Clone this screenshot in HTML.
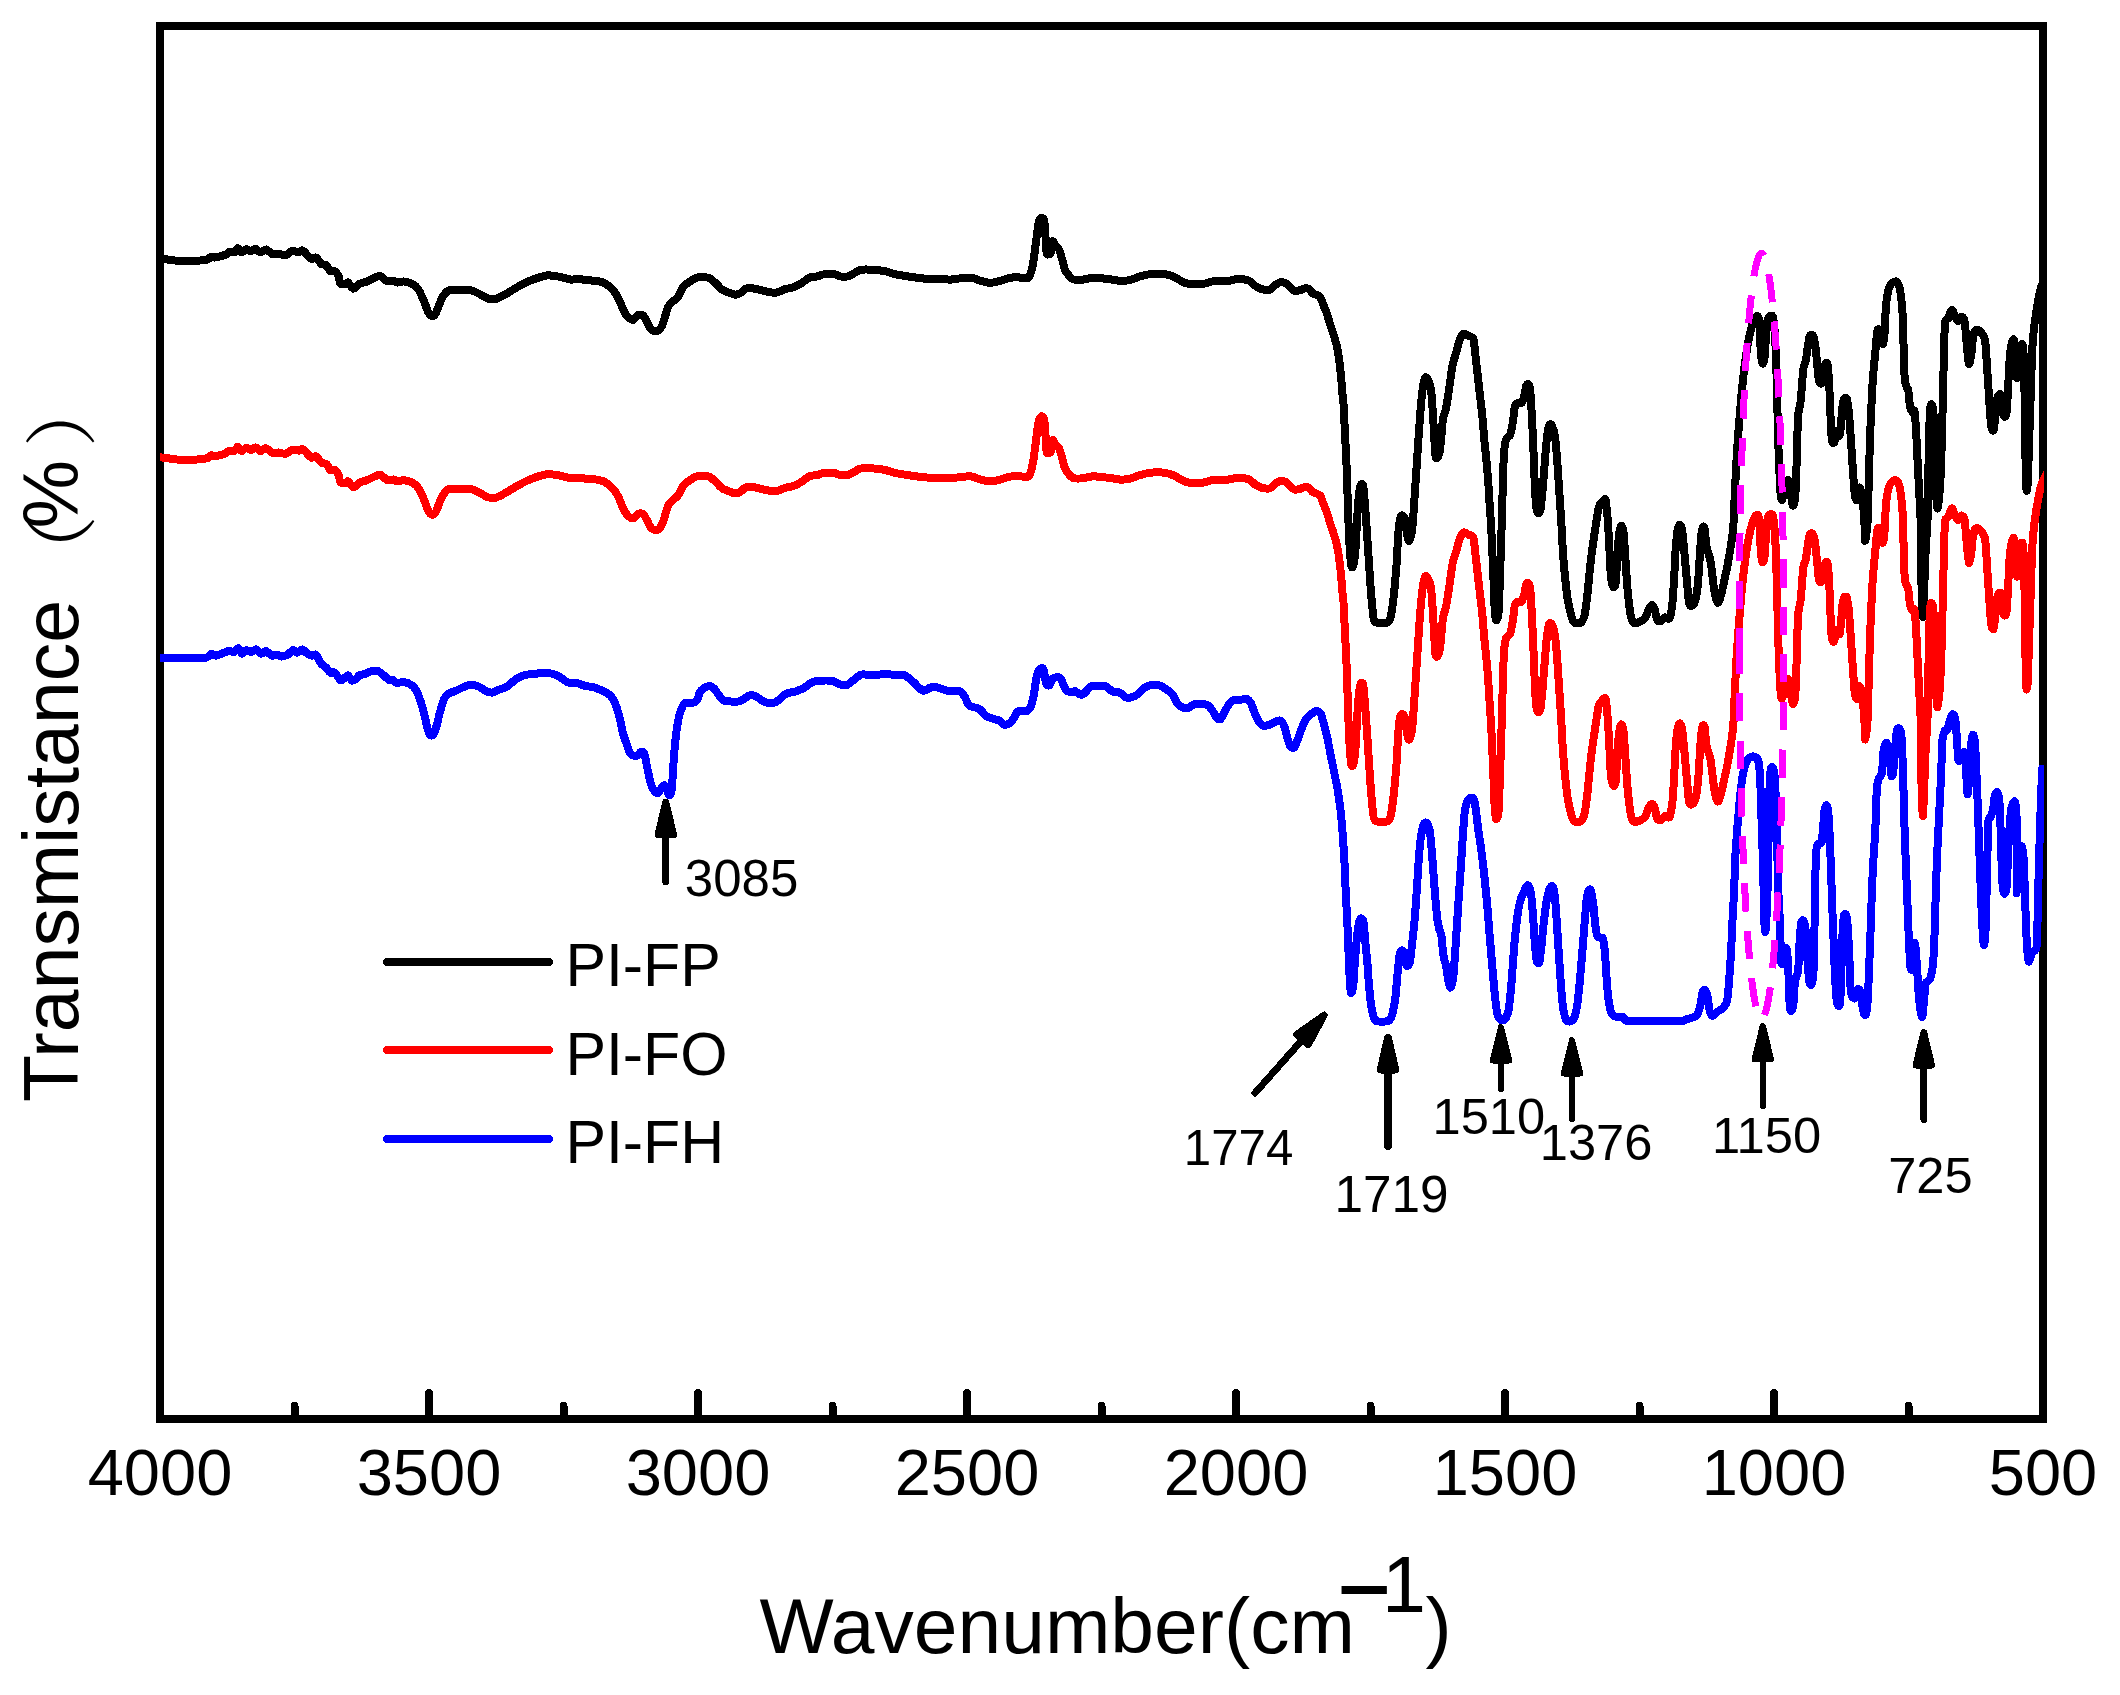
<!DOCTYPE html>
<html><head><meta charset="utf-8"><title>FTIR spectra</title>
<style>
html,body{margin:0;padding:0;background:#fff}
body{width:2120px;height:1695px;overflow:hidden}
svg{display:block}
text{font-family:"Liberation Sans",sans-serif;fill:#000}
</style></head><body>
<svg width="2120" height="1695" viewBox="0 0 2120 1695" shape-rendering="crispEdges">
<rect x="0" y="0" width="2120" height="1695" fill="#fff"/>
<rect x="160" y="26" width="1883" height="1393" fill="none" stroke="#000" stroke-width="8"/>
<g stroke="#000" stroke-width="8" stroke-linecap="round"><line x1="160.0" y1="1419" x2="160.0" y2="1393"/><line x1="294.5" y1="1419" x2="294.5" y2="1406"/><line x1="429.0" y1="1419" x2="429.0" y2="1393"/><line x1="563.5" y1="1419" x2="563.5" y2="1406"/><line x1="698.0" y1="1419" x2="698.0" y2="1393"/><line x1="832.5" y1="1419" x2="832.5" y2="1406"/><line x1="967.0" y1="1419" x2="967.0" y2="1393"/><line x1="1101.5" y1="1419" x2="1101.5" y2="1406"/><line x1="1236.0" y1="1419" x2="1236.0" y2="1393"/><line x1="1370.5" y1="1419" x2="1370.5" y2="1406"/><line x1="1505.0" y1="1419" x2="1505.0" y2="1393"/><line x1="1639.5" y1="1419" x2="1639.5" y2="1406"/><line x1="1774.0" y1="1419" x2="1774.0" y2="1393"/><line x1="1908.5" y1="1419" x2="1908.5" y2="1406"/><line x1="2043.0" y1="1419" x2="2043.0" y2="1393"/></g>
<g font-size="65"><text x="160.0" y="1494.7" text-anchor="middle">4000</text><text x="429.0" y="1494.7" text-anchor="middle">3500</text><text x="698.0" y="1494.7" text-anchor="middle">3000</text><text x="967.0" y="1494.7" text-anchor="middle">2500</text><text x="1236.0" y="1494.7" text-anchor="middle">2000</text><text x="1505.0" y="1494.7" text-anchor="middle">1500</text><text x="1774.0" y="1494.7" text-anchor="middle">1000</text><text x="2043.0" y="1494.7" text-anchor="middle">500</text></g>
<clipPath id="plotclip"><rect x="160" y="26" width="1884" height="1393"/></clipPath>
<g fill="none" stroke-width="8" stroke-linejoin="round" stroke-linecap="butt" clip-path="url(#plotclip)">
<path stroke="#000" d="M159.8,258.5C160.4,258.6 161.4,258.7 164.2,259.1C166.9,259.4 177.9,261.1 182.1,261.3C186.2,261.5 194.0,261.0 197.2,260.8C200.4,260.5 205.8,260.0 207.5,259.4C209.3,258.9 210.4,256.8 211.3,256.6C212.3,256.4 213.3,257.8 215.1,257.5C216.9,257.3 223.7,255.4 225.5,254.7C227.2,254.0 228.1,252.2 229.2,251.9C230.4,251.5 233.8,252.4 234.9,251.9C236.0,251.4 236.9,248.0 237.7,248.1C238.6,248.2 240.4,252.3 241.5,252.5C242.6,252.6 245.0,249.2 246.2,249.1C247.4,248.9 249.8,251.4 250.9,251.3C252.1,251.3 254.5,248.5 255.7,248.7C256.8,248.8 259.1,252.4 260.4,252.5C261.7,252.5 264.5,249.2 266.0,249.4C267.6,249.7 271.1,253.8 272.6,254.3C274.2,254.9 276.7,253.7 278.3,253.8C280.0,253.9 284.2,255.4 285.8,255.1C287.5,254.8 289.9,251.7 291.5,251.3C293.2,250.9 297.6,252.0 299.1,251.9C300.5,251.8 301.3,249.7 302.8,250.6C304.4,251.4 309.7,258.0 311.3,258.9C313.0,259.7 314.7,256.9 316.0,257.5C317.3,258.2 320.4,263.2 321.7,264.2C323.0,265.1 325.4,264.2 326.4,265.1C327.5,266.0 329.1,270.5 330.2,271.3C331.2,272.1 333.8,270.7 334.9,271.3C336.0,272.0 338.0,274.8 338.7,276.4C339.4,278.0 339.6,283.0 340.6,284.0C341.5,284.9 345.3,284.1 346.2,284.0C347.2,283.8 347.2,282.1 348.1,282.6C349.0,283.2 352.0,288.5 353.4,288.7C354.8,288.8 357.7,284.9 359.4,284.0C361.1,283.1 364.9,282.4 367.0,281.5C369.1,280.6 374.6,277.6 376.4,277.0C378.2,276.3 379.8,275.9 381.1,276.4C382.4,276.9 385.3,280.6 386.8,281.1C388.3,281.7 392.1,280.6 393.4,280.8C394.7,280.9 395.9,282.5 397.2,282.6C398.5,282.7 401.9,281.3 403.8,281.5C405.7,281.7 410.5,283.1 412.3,284.0C414.0,284.9 416.5,286.7 417.9,288.7C419.3,290.7 422.3,297.1 423.6,300.0C424.9,302.9 427.2,310.3 428.3,312.3C429.4,314.3 431.1,315.9 432.1,316.0C433.0,316.2 434.7,315.3 435.8,313.2C437.0,311.1 440.0,301.9 441.5,299.1C443.0,296.2 446.3,291.7 448.1,290.6C449.9,289.5 452.8,290.2 455.7,290.2C458.5,290.1 467.9,289.8 470.8,290.2C473.6,290.6 476.2,292.4 478.3,293.4C480.4,294.4 485.6,297.8 487.7,298.5C489.9,299.2 493.2,299.5 495.3,299.1C497.4,298.6 501.9,296.2 504.7,294.7C507.5,293.2 514.6,288.6 517.9,286.8C521.2,285.0 527.6,281.6 531.1,280.2C534.7,278.8 543.8,276.1 546.2,275.5C548.6,274.9 548.6,275.3 550.4,275.5C552.2,275.7 558.2,276.5 560.8,277.0C563.3,277.5 569.0,279.4 571.1,279.6C573.3,279.9 575.7,278.8 577.7,278.9C579.7,278.9 584.6,279.9 587.2,280.2C589.8,280.5 596.1,280.7 598.5,281.1C600.8,281.6 604.2,282.8 606.0,284.0C607.9,285.1 611.9,288.6 613.6,290.6C615.2,292.6 618.1,297.6 619.2,300.0C620.4,302.4 622.0,307.3 623.0,309.4C624.1,311.6 626.4,315.7 627.7,317.0C629.0,318.3 632.1,320.0 633.4,319.8C634.7,319.6 636.9,315.7 638.1,315.1C639.3,314.5 641.8,314.4 642.8,315.1C643.9,315.8 645.7,319.1 646.6,320.8C647.5,322.4 649.4,327.0 650.4,328.3C651.3,329.6 653.1,330.9 654.2,331.1C655.2,331.4 657.8,331.0 658.9,330.2C659.9,329.4 661.8,326.4 662.6,324.5C663.5,322.6 664.8,317.3 665.5,315.1C666.2,312.9 667.5,308.3 668.3,306.6C669.1,305.0 670.9,303.1 672.1,301.9C673.3,300.7 676.3,299.1 677.7,297.2C679.2,295.3 682.0,288.7 683.4,286.8C684.8,284.9 687.4,283.2 689.1,282.1C690.7,280.9 695.0,278.4 696.6,277.7C698.3,277.1 700.6,276.9 702.3,277.0C703.9,277.1 708.2,277.5 709.8,278.3C711.5,279.1 713.9,281.6 715.5,283.0C717.0,284.4 720.4,288.4 722.1,289.6C723.7,290.8 727.0,291.8 728.7,292.5C730.3,293.1 733.8,294.7 735.3,294.7C736.8,294.8 739.6,293.6 740.9,292.8C742.2,292.1 743.9,289.2 745.7,288.7C747.4,288.2 753.0,288.4 755.1,288.7C757.2,288.9 760.3,290.0 762.6,290.6C765.0,291.1 771.8,292.7 774.0,292.8C776.1,292.9 778.2,292.0 779.6,291.5C781.0,291.0 783.5,289.6 785.3,289.1C787.1,288.5 791.7,288.0 793.8,287.2C795.9,286.4 800.3,283.9 802.3,282.6C804.3,281.4 807.9,278.1 809.8,277.4C811.7,276.6 815.7,276.8 817.4,276.4C819.0,276.1 820.9,274.8 823.0,274.5C825.1,274.2 832.2,273.9 834.3,274.2C836.5,274.4 838.3,276.1 840.0,276.4C841.7,276.7 845.8,276.8 847.5,276.4C849.3,276.0 852.5,274.0 854.2,273.2C855.8,272.4 858.3,270.2 860.8,269.8C863.2,269.4 870.9,269.6 874.0,269.8C877.0,270.0 882.7,270.8 885.3,271.3C887.9,271.9 891.9,273.5 894.7,274.2C897.5,274.8 904.6,275.9 907.9,276.4C911.2,276.9 917.6,277.9 921.1,278.3C924.7,278.7 933.5,279.2 936.2,279.2C939.0,279.3 941.4,279.0 943.2,279.1C945.0,279.1 948.4,279.7 950.8,279.6C953.1,279.5 959.5,278.3 962.1,278.1C964.7,277.9 969.2,277.4 971.5,277.7C973.9,278.1 978.6,280.3 980.9,280.9C983.3,281.6 988.0,282.8 990.4,282.8C992.7,282.8 997.5,281.5 999.8,280.9C1002.2,280.4 1007.1,278.6 1009.2,278.1C1011.4,277.6 1014.9,277.2 1016.8,277.2C1018.7,277.2 1022.8,278.1 1024.3,278.1C1025.9,278.1 1028.0,278.8 1029.1,277.2C1030.1,275.5 1032.0,269.0 1032.8,264.9C1033.7,260.8 1035.0,249.3 1035.7,244.2C1036.4,239.0 1037.8,226.7 1038.5,223.4C1039.2,220.1 1040.6,218.1 1041.3,217.7C1042.0,217.4 1043.6,218.2 1044.2,220.6C1044.7,222.9 1045.2,232.6 1045.5,236.6C1045.8,240.6 1046.3,250.4 1046.6,252.6C1046.9,254.9 1047.4,254.5 1047.9,254.5C1048.4,254.5 1050.2,254.3 1050.8,252.6C1051.3,251.0 1052.1,242.1 1052.6,241.3C1053.2,240.5 1054.6,245.0 1055.5,246.0C1056.3,247.1 1058.4,248.2 1059.2,249.8C1060.1,251.5 1061.4,256.8 1062.1,259.2C1062.8,261.7 1064.1,267.6 1064.9,269.6C1065.7,271.6 1067.6,274.1 1068.7,275.3C1069.7,276.5 1071.6,278.9 1073.4,279.4C1075.2,280.0 1080.5,279.8 1082.8,279.6C1085.2,279.4 1090.1,277.9 1092.3,277.7C1094.4,277.5 1097.5,277.9 1099.8,278.1C1102.2,278.3 1108.5,279.1 1111.1,279.4C1113.7,279.8 1118.2,280.9 1120.6,280.9C1122.9,281.0 1127.6,280.5 1130.0,280.0C1132.4,279.5 1136.8,277.4 1139.4,276.6C1142.0,275.8 1147.7,274.3 1150.8,274.0C1153.8,273.6 1161.1,273.6 1164.0,274.0C1166.8,274.3 1171.0,275.6 1173.4,276.6C1175.8,277.6 1180.9,281.0 1182.8,281.9C1184.7,282.8 1185.9,283.5 1188.5,283.8C1191.1,284.0 1200.5,284.1 1203.6,283.8C1206.7,283.5 1210.0,281.7 1213.0,281.3C1216.1,281.0 1225.0,281.2 1228.1,280.9C1231.2,280.7 1235.0,279.1 1237.5,279.1C1240.1,279.0 1246.7,279.7 1248.9,280.6C1251.1,281.4 1253.5,284.7 1255.1,285.8C1256.7,286.9 1259.8,288.6 1261.7,289.1C1263.6,289.6 1268.6,290.0 1270.2,289.6C1271.9,289.1 1273.8,286.2 1274.9,285.3C1276.1,284.4 1278.4,282.8 1279.7,282.5C1281.0,282.2 1283.9,282.3 1285.3,283.0C1286.7,283.7 1289.8,287.2 1291.0,288.2C1292.2,289.2 1293.6,290.8 1294.8,291.0C1295.9,291.2 1299.1,290.4 1300.4,290.0C1301.7,289.7 1304.1,288.3 1305.2,288.2C1306.2,288.0 1308.0,288.5 1308.9,289.1C1309.9,289.8 1311.8,292.6 1312.7,293.4C1313.7,294.1 1315.5,294.3 1316.5,294.8C1317.4,295.2 1319.4,295.9 1320.3,297.1C1321.1,298.3 1322.3,302.1 1323.1,304.2C1323.9,306.3 1326.0,311.3 1326.9,313.7C1327.7,316.0 1328.9,320.5 1329.7,323.1C1330.5,325.7 1332.7,331.8 1333.5,334.4C1334.3,337.0 1335.7,341.5 1336.3,343.9C1336.9,346.2 1337.7,350.4 1338.2,353.3C1338.7,356.3 1339.7,363.9 1340.1,367.5C1340.5,371.0 1341.2,377.6 1341.5,381.6C1341.9,385.7 1342.7,397.1 1342.9,400.1C1343.2,403.0 1343.4,400.8 1343.6,404.9C1343.9,409.1 1344.6,426.2 1344.9,433.3C1345.3,440.3 1346.1,454.5 1346.4,461.6C1346.7,468.7 1347.1,482.8 1347.4,489.9C1347.6,497.0 1348.0,511.1 1348.3,518.2C1348.6,525.3 1349.3,540.6 1349.6,546.5C1350.0,552.4 1350.7,562.9 1351.2,565.4C1351.6,567.9 1352.5,568.0 1353.0,566.3C1353.6,564.7 1354.8,558.2 1355.3,552.2C1355.8,546.2 1356.8,525.0 1357.2,518.2C1357.6,511.4 1358.3,501.6 1358.7,497.4C1359.1,493.3 1360.0,486.6 1360.6,485.2C1361.2,483.8 1362.7,483.4 1363.2,486.1C1363.8,488.8 1364.7,501.7 1365.1,506.9C1365.5,512.1 1366.2,521.5 1366.6,527.6C1367.1,533.8 1368.0,548.9 1368.5,556.0C1369.0,563.0 1369.9,577.4 1370.4,584.3C1370.9,591.1 1372.1,606.0 1372.7,610.7C1373.3,615.4 1373.3,620.5 1375.1,622.0C1377.0,623.5 1385.4,623.3 1387.4,622.6C1389.4,621.9 1390.0,620.0 1390.8,616.4C1391.6,612.8 1393.3,600.1 1394.0,593.7C1394.7,587.3 1395.9,572.9 1396.5,565.4C1397.0,557.8 1397.9,539.2 1398.3,533.3C1398.8,527.4 1399.7,520.4 1400.2,518.2C1400.8,516.0 1401.9,515.1 1402.5,515.4C1403.1,515.6 1404.7,517.6 1405.3,520.1C1405.9,522.6 1406.7,532.6 1407.2,535.2C1407.7,537.8 1408.5,541.3 1409.1,540.9C1409.7,540.4 1411.3,535.4 1411.9,531.4C1412.5,527.4 1413.4,515.1 1413.8,508.8C1414.3,502.4 1415.2,487.5 1415.7,480.5C1416.2,473.4 1417.1,459.9 1417.6,452.1C1418.1,444.4 1419.3,425.7 1419.9,418.2C1420.5,410.6 1421.7,396.7 1422.3,391.7C1422.9,386.8 1424.2,380.2 1424.8,378.5C1425.4,376.8 1426.3,377.0 1427.0,378.1C1427.8,379.3 1430.1,383.9 1430.8,388.0C1431.5,392.0 1432.3,404.5 1432.7,410.6C1433.1,416.7 1433.9,431.4 1434.2,437.0C1434.6,442.7 1435.1,453.3 1435.5,455.9C1435.9,458.5 1436.9,458.5 1437.4,457.8C1438.0,457.1 1439.3,453.6 1439.9,450.3C1440.4,446.9 1441.4,435.4 1441.8,431.4C1442.2,427.4 1442.6,421.0 1443.1,418.2C1443.6,415.3 1445.2,412.0 1445.9,408.7C1446.6,405.4 1447.9,397.2 1448.7,391.7C1449.6,386.3 1451.6,370.3 1452.5,365.3C1453.5,360.3 1455.4,355.4 1456.3,352.1C1457.2,348.8 1459.1,341.2 1460.1,338.9C1461.0,336.6 1462.8,333.9 1463.8,333.6C1464.9,333.2 1467.4,335.4 1468.6,336.0C1469.7,336.7 1472.4,336.2 1473.3,338.9C1474.2,341.6 1475.0,351.9 1475.7,357.8C1476.4,363.7 1478.1,379.0 1478.9,386.1C1479.7,393.1 1481.4,407.3 1482.2,414.4C1482.9,421.5 1483.9,435.6 1484.6,442.7C1485.3,449.8 1486.9,463.9 1487.4,471.0C1488.0,478.1 1488.9,492.3 1489.3,499.3C1489.8,506.4 1490.8,520.6 1491.2,527.6C1491.6,534.7 1492.2,548.9 1492.5,556.0C1492.8,563.0 1493.4,577.9 1493.7,584.3C1493.9,590.6 1494.3,602.4 1494.6,606.9C1494.9,611.4 1495.5,619.2 1495.9,620.1C1496.4,621.1 1497.9,619.0 1498.4,614.5C1498.9,610.0 1499.4,592.8 1499.7,584.3C1500.0,575.8 1500.7,556.0 1501.0,546.5C1501.3,537.1 1501.9,517.0 1502.2,508.8C1502.4,500.5 1502.7,487.5 1502.9,480.5C1503.2,473.4 1503.6,457.3 1504.1,452.1C1504.5,446.9 1505.6,441.0 1506.3,438.9C1507.1,436.8 1509.3,437.3 1510.1,435.1C1510.9,433.0 1512.3,425.5 1512.9,421.9C1513.5,418.4 1514.2,409.2 1514.8,406.8C1515.4,404.5 1516.8,403.5 1517.6,403.1C1518.5,402.6 1520.6,404.0 1521.4,403.1C1522.2,402.1 1523.7,397.6 1524.3,395.5C1524.8,393.4 1525.7,387.5 1526.1,386.1C1526.6,384.7 1527.6,383.9 1528.0,384.2C1528.5,384.4 1529.5,385.4 1529.9,388.0C1530.3,390.6 1530.9,399.3 1531.2,404.9C1531.6,410.6 1532.4,426.2 1532.7,433.3C1533.1,440.3 1533.6,454.5 1533.9,461.6C1534.2,468.7 1534.7,484.0 1535.0,489.9C1535.3,495.8 1536.1,505.8 1536.5,508.8C1536.9,511.7 1537.9,513.5 1538.4,513.5C1538.9,513.5 1540.2,511.7 1540.7,508.8C1541.2,505.8 1542.1,494.6 1542.6,489.9C1543.0,485.2 1543.7,475.7 1544.1,471.0C1544.5,466.3 1545.2,456.9 1545.6,452.1C1546.0,447.4 1547.0,436.7 1547.5,433.3C1547.9,429.8 1548.8,425.7 1549.4,424.8C1549.9,423.8 1551.3,424.2 1552.0,425.7C1552.7,427.2 1554.4,432.6 1555.0,437.0C1555.7,441.5 1556.8,455.0 1557.3,461.6C1557.8,468.2 1558.7,482.8 1559.2,489.9C1559.6,497.0 1560.6,511.1 1561.1,518.2C1561.5,525.3 1562.1,539.4 1562.6,546.5C1563.0,553.6 1564.2,568.2 1564.8,574.8C1565.5,581.4 1566.8,594.2 1567.7,599.4C1568.5,604.6 1570.6,613.5 1571.4,616.4C1572.3,619.3 1573.1,621.8 1574.3,622.6C1575.5,623.4 1579.6,623.6 1580.9,622.6C1582.2,621.6 1583.8,618.1 1584.7,614.5C1585.5,610.9 1586.8,599.8 1587.5,593.7C1588.2,587.6 1589.6,571.8 1590.3,565.4C1591.0,559.0 1592.4,547.9 1593.2,542.7C1593.9,537.6 1595.3,528.4 1596.0,523.9C1596.7,519.4 1598.0,509.7 1598.8,506.9C1599.6,504.0 1601.8,502.2 1602.6,501.2C1603.4,500.3 1604.9,498.4 1605.4,499.3C1605.9,500.3 1606.4,505.2 1606.7,508.8C1607.1,512.3 1607.9,521.7 1608.3,527.6C1608.6,533.5 1609.4,549.6 1609.8,556.0C1610.1,562.3 1610.6,574.7 1611.1,578.6C1611.6,582.5 1612.9,586.6 1613.5,587.1C1614.1,587.6 1615.3,586.3 1615.8,582.4C1616.3,578.5 1616.9,562.1 1617.3,556.0C1617.7,549.8 1618.7,537.1 1619.2,533.3C1619.7,529.5 1620.6,526.0 1621.1,525.8C1621.6,525.5 1622.8,527.6 1623.4,531.4C1623.9,535.2 1624.8,549.4 1625.2,556.0C1625.7,562.6 1626.7,578.4 1627.1,584.3C1627.6,590.2 1628.5,599.1 1629.0,603.2C1629.5,607.2 1630.3,613.9 1630.9,616.4C1631.5,618.8 1632.7,622.3 1633.7,623.0C1634.8,623.7 1638.0,622.6 1639.4,622.0C1640.8,621.4 1643.9,619.9 1645.1,618.3C1646.2,616.6 1648.0,610.5 1648.8,608.8C1649.7,607.2 1651.3,605.0 1652.0,605.0C1652.8,605.0 1653.8,606.9 1654.5,608.8C1655.2,610.7 1656.5,618.6 1657.3,620.1C1658.2,621.7 1660.2,621.4 1661.1,621.1C1662.1,620.7 1663.8,617.7 1664.9,617.3C1665.9,617.0 1668.7,620.0 1669.6,618.3C1670.5,616.5 1671.8,608.6 1672.4,603.2C1673.0,597.7 1673.9,581.9 1674.3,574.8C1674.7,567.8 1675.4,552.2 1675.8,546.5C1676.3,540.9 1677.2,532.2 1677.7,529.5C1678.2,526.8 1679.4,524.6 1680.0,524.8C1680.6,525.0 1681.7,527.5 1682.3,531.4C1682.8,535.3 1684.1,549.4 1684.7,556.0C1685.3,562.6 1686.6,578.4 1687.2,584.3C1687.7,590.2 1688.5,600.4 1689.0,603.2C1689.6,605.9 1690.6,606.2 1691.3,606.0C1692.1,605.7 1694.3,604.0 1695.1,601.3C1695.9,598.6 1697.3,589.9 1697.9,584.3C1698.5,578.6 1699.4,561.9 1699.8,556.0C1700.2,550.1 1700.7,540.7 1701.1,537.1C1701.5,533.4 1702.5,527.6 1703.0,526.7C1703.5,525.8 1704.5,527.1 1704.9,529.5C1705.3,532.0 1705.7,542.5 1706.4,546.5C1707.1,550.5 1709.7,556.1 1710.6,561.5C1711.6,566.9 1713.3,584.7 1714.2,589.8C1715.0,595.0 1716.8,602.2 1717.7,602.8C1718.6,603.4 1720.4,597.6 1721.2,594.5C1722.1,591.4 1724.0,581.9 1724.8,578.0C1725.6,574.2 1726.8,569.9 1727.8,563.9C1728.9,557.9 1732.1,538.0 1733.0,530.0C1733.8,522.0 1734.1,507.7 1734.5,500.1C1734.9,492.5 1735.6,477.1 1736.0,469.4C1736.4,461.7 1737.3,446.4 1737.9,438.7C1738.4,431.1 1739.7,415.3 1740.3,408.1C1740.9,400.8 1742.2,387.0 1742.9,380.4C1743.6,373.9 1745.2,361.3 1746.0,355.9C1746.8,350.5 1748.3,341.3 1749.1,337.5C1749.8,333.7 1751.4,327.7 1752.1,325.2C1752.9,322.7 1754.4,318.6 1755.2,317.6C1756.0,316.5 1757.7,315.1 1758.3,316.8C1758.8,318.5 1759.5,326.9 1759.8,331.4C1760.1,335.9 1760.5,348.8 1760.9,352.8C1761.2,356.9 1762.0,362.8 1762.4,363.6C1762.8,364.3 1764.0,362.0 1764.4,359.0C1764.8,355.9 1765.5,343.8 1765.9,339.0C1766.3,334.2 1767.0,323.5 1767.5,320.6C1767.9,317.7 1769.1,316.5 1769.8,316.0C1770.4,315.5 1772.2,314.9 1772.8,316.8C1773.4,318.7 1774.3,326.5 1774.7,331.4C1775.1,336.2 1775.7,349.8 1775.9,355.9C1776.2,362.0 1776.5,373.9 1776.7,380.4C1776.9,387.0 1777.2,400.8 1777.4,408.1C1777.6,415.3 1778.0,431.1 1778.2,438.7C1778.4,446.4 1779.0,462.7 1779.3,469.4C1779.6,476.1 1780.2,488.6 1780.5,492.4C1780.8,496.3 1781.4,500.7 1782.0,500.1C1782.7,499.5 1785.1,490.3 1785.9,487.8C1786.6,485.3 1787.6,479.6 1788.2,480.2C1788.7,480.7 1789.9,489.3 1790.5,492.4C1791.1,495.6 1792.2,504.7 1792.8,505.5C1793.4,506.2 1794.7,502.1 1795.1,498.6C1795.5,495.0 1795.9,483.6 1796.2,477.1C1796.4,470.6 1796.8,454.1 1797.1,446.4C1797.3,438.7 1797.7,421.5 1798.1,415.7C1798.6,410.0 1800.1,406.1 1800.8,400.4C1801.4,394.6 1802.6,374.7 1803.2,369.7C1803.8,364.7 1805.2,363.4 1805.8,360.5C1806.4,357.6 1807.3,349.8 1807.8,346.7C1808.3,343.6 1809.0,337.4 1809.7,336.0C1810.3,334.5 1812.0,334.2 1812.7,335.2C1813.4,336.2 1814.5,340.3 1815.0,343.6C1815.6,347.0 1816.5,357.4 1817.0,362.0C1817.5,366.6 1818.3,377.8 1818.9,380.4C1819.4,383.1 1820.6,383.9 1821.2,383.5C1821.7,383.1 1823.0,379.7 1823.5,377.4C1823.9,375.1 1824.5,366.8 1825.0,365.1C1825.5,363.4 1826.8,362.0 1827.3,363.6C1827.8,365.1 1828.5,372.8 1828.8,377.4C1829.2,382.0 1829.6,394.6 1829.9,400.4C1830.1,406.1 1830.6,418.4 1830.8,423.4C1831.1,428.4 1831.5,437.9 1831.9,440.3C1832.3,442.7 1833.6,443.7 1834.2,442.6C1834.8,441.4 1835.8,431.9 1836.5,431.1C1837.2,430.2 1839.0,436.6 1839.6,435.7C1840.1,434.7 1840.8,426.8 1841.1,423.4C1841.4,419.9 1841.8,411.1 1842.2,408.1C1842.6,405.0 1843.6,400.0 1844.2,398.9C1844.7,397.7 1846.2,397.3 1846.8,398.9C1847.3,400.4 1848.3,407.1 1848.8,411.1C1849.2,415.2 1849.9,425.7 1850.3,431.1C1850.7,436.4 1851.5,448.3 1851.8,454.1C1852.2,459.8 1853.0,471.9 1853.4,477.1C1853.8,482.3 1854.4,492.6 1854.9,495.5C1855.4,498.4 1856.7,501.1 1857.2,500.1C1857.7,499.1 1858.3,489.0 1858.7,487.8C1859.2,486.7 1860.5,488.4 1861.0,490.9C1861.6,493.4 1862.9,502.9 1863.3,507.8C1863.8,512.7 1864.6,525.9 1864.9,530.0C1865.1,534.1 1864.8,542.0 1865.2,540.7C1865.5,539.5 1867.2,528.3 1867.7,520.0C1868.1,511.8 1868.6,486.2 1868.9,474.8C1869.2,463.3 1870.0,440.2 1870.4,428.7C1870.9,417.2 1872.0,392.3 1872.6,382.7C1873.2,373.1 1874.8,358.4 1875.3,352.0C1875.9,345.7 1876.8,334.9 1877.2,332.1C1877.6,329.3 1878.2,328.8 1878.7,329.3C1879.2,329.9 1880.6,334.9 1881.2,336.7C1881.7,338.5 1882.6,344.4 1883.0,344.1C1883.4,343.7 1884.2,337.4 1884.5,333.6C1884.9,329.8 1885.2,318.1 1885.5,313.7C1885.8,309.3 1886.4,301.6 1886.8,298.3C1887.3,295.1 1888.5,289.5 1889.1,287.6C1889.8,285.7 1891.4,283.8 1892.2,283.0C1893.1,282.2 1895.2,281.1 1896.0,281.5C1896.9,281.9 1898.4,283.8 1899.1,286.1C1899.8,288.4 1900.9,295.5 1901.4,299.9C1901.9,304.3 1902.7,314.8 1903.0,321.4C1903.2,327.9 1903.5,344.8 1903.7,352.0C1903.9,359.3 1904.4,375.2 1904.8,379.7C1905.2,384.1 1906.3,386.0 1906.8,387.3C1907.2,388.7 1907.9,388.1 1908.3,390.4C1908.7,392.7 1909.4,403.0 1909.9,405.7C1910.3,408.4 1911.6,411.2 1912.2,411.9C1912.7,412.5 1914.0,409.0 1914.5,411.1C1914.9,413.2 1915.6,422.7 1916.0,428.7C1916.4,434.8 1917.1,451.7 1917.5,459.4C1917.9,467.1 1918.7,482.5 1919.1,490.1C1919.4,497.7 1920.3,508.7 1920.6,520.0C1920.9,531.3 1921.1,568.3 1921.4,580.4C1921.7,592.5 1922.5,619.9 1923.0,617.0C1923.5,614.0 1924.8,568.9 1925.4,556.8C1925.9,544.7 1927.1,530.3 1927.5,520.0C1927.9,509.8 1928.0,486.2 1928.3,474.8C1928.5,463.3 1929.0,437.4 1929.3,428.7C1929.6,420.1 1930.1,408.4 1930.6,405.7C1931.0,403.0 1932.4,404.4 1932.9,407.3C1933.3,410.1 1934.1,422.2 1934.4,428.7C1934.7,435.3 1935.0,451.7 1935.2,459.4C1935.4,467.1 1935.6,484.0 1935.9,490.1C1936.2,496.2 1937.0,508.5 1937.5,508.5C1937.9,508.5 1939.3,496.2 1939.8,490.1C1940.2,484.0 1941.0,469.0 1941.3,459.4C1941.6,449.8 1942.2,424.9 1942.5,413.4C1942.8,401.9 1943.4,377.0 1943.6,367.4C1943.8,357.8 1944.2,342.5 1944.4,336.7C1944.6,330.9 1944.7,323.7 1945.1,321.4C1945.6,319.1 1947.5,319.4 1948.2,318.3C1948.9,317.1 1950.0,313.2 1950.5,312.2C1951.0,311.1 1951.8,309.3 1952.3,309.9C1952.9,310.4 1954.4,315.3 1955.1,316.8C1955.8,318.2 1957.4,321.4 1958.2,321.4C1958.9,321.4 1960.5,316.9 1961.2,316.8C1962.0,316.6 1963.7,317.7 1964.3,319.8C1964.9,321.9 1965.5,329.6 1965.8,333.6C1966.2,337.7 1967.0,348.2 1967.4,352.0C1967.8,355.9 1968.4,363.9 1968.9,364.3C1969.4,364.7 1970.7,358.2 1971.2,355.1C1971.7,352.0 1972.3,342.8 1972.7,339.8C1973.2,336.7 1974.4,331.8 1975.0,330.6C1975.7,329.3 1977.3,329.4 1978.1,329.8C1979.0,330.2 1981.1,332.4 1982.0,333.6C1982.8,334.9 1984.4,336.5 1985.0,339.8C1985.6,343.0 1986.2,354.3 1986.6,359.7C1986.9,365.1 1987.7,377.0 1988.1,382.7C1988.5,388.5 1989.2,400.4 1989.6,405.7C1990.0,411.1 1990.7,422.6 1991.2,425.7C1991.6,428.7 1992.9,431.8 1993.5,430.3C1994.0,428.7 1995.3,417.4 1995.8,413.4C1996.2,409.4 1996.7,400.5 1997.3,398.1C1997.9,395.7 1999.7,393.3 2000.4,394.2C2001.0,395.2 2002.2,402.9 2002.7,405.7C2003.1,408.5 2003.7,415.5 2004.2,416.5C2004.7,417.4 2006.0,416.7 2006.5,413.4C2007.0,410.1 2007.6,397.1 2008.0,390.4C2008.4,383.7 2009.1,365.7 2009.6,359.7C2010.0,353.8 2011.3,345.2 2011.9,342.8C2012.4,340.4 2013.7,337.5 2014.2,340.5C2014.6,343.6 2015.3,362.7 2015.7,367.4C2016.1,372.1 2016.8,378.1 2017.2,378.1C2017.7,378.1 2019.1,371.4 2019.5,367.4C2020.0,363.4 2020.6,348.6 2021.1,345.9C2021.5,343.2 2022.5,343.2 2022.9,345.9C2023.3,348.6 2023.9,360.9 2024.1,367.4C2024.3,373.9 2024.5,390.4 2024.6,398.1C2024.7,405.7 2024.9,421.1 2025.1,428.7C2025.2,436.4 2025.4,452.7 2025.5,459.4C2025.6,466.1 2025.7,478.5 2025.8,482.4C2026.0,486.4 2026.3,490.9 2026.6,490.9C2026.8,490.9 2027.5,488.3 2027.8,482.4C2028.1,476.6 2028.7,454.6 2029.0,444.1C2029.4,433.5 2030.2,409.6 2030.6,398.1C2031.0,386.6 2031.7,360.3 2032.1,352.0C2032.5,343.8 2033.3,335.9 2033.6,332.1C2034.0,328.3 2034.4,324.6 2034.9,321.4C2035.3,318.1 2036.4,310.3 2037.2,306.2C2037.9,302.1 2039.8,291.8 2040.7,288.5C2041.6,285.3 2043.2,282.0 2044.1,279.9C2045.0,277.9 2047.6,273.0 2048.1,272.0"/>
<path stroke="#f00" d="M159.8,457.2C160.4,457.3 161.4,457.4 164.2,457.8C166.9,458.1 177.9,459.8 182.1,460.0C186.2,460.2 194.0,459.7 197.2,459.5C200.4,459.2 205.8,458.7 207.5,458.1C209.3,457.6 210.4,455.5 211.3,455.3C212.3,455.1 213.3,456.5 215.1,456.2C216.9,456.0 223.7,454.1 225.5,453.4C227.2,452.7 228.1,450.9 229.2,450.6C230.4,450.2 233.8,451.1 234.9,450.6C236.0,450.1 236.9,446.7 237.7,446.8C238.6,446.9 240.4,451.0 241.5,451.2C242.6,451.3 245.0,447.9 246.2,447.8C247.4,447.6 249.8,450.1 250.9,450.0C252.1,450.0 254.5,447.2 255.7,447.4C256.8,447.5 259.1,451.1 260.4,451.2C261.7,451.2 264.5,447.9 266.0,448.1C267.6,448.4 271.1,452.5 272.6,453.0C274.2,453.6 276.7,452.4 278.3,452.5C280.0,452.6 284.2,454.1 285.8,453.8C287.5,453.5 289.9,450.4 291.5,450.0C293.2,449.6 297.6,450.7 299.1,450.6C300.5,450.5 301.3,448.4 302.8,449.3C304.4,450.1 309.7,456.7 311.3,457.6C313.0,458.4 314.7,455.6 316.0,456.2C317.3,456.9 320.4,461.9 321.7,462.9C323.0,463.8 325.4,462.9 326.4,463.8C327.5,464.7 329.1,469.2 330.2,470.0C331.2,470.8 333.8,469.4 334.9,470.0C336.0,470.7 338.0,473.5 338.7,475.1C339.4,476.7 339.6,481.7 340.6,482.7C341.5,483.6 345.3,482.8 346.2,482.7C347.2,482.5 347.2,480.8 348.1,481.3C349.0,481.9 352.0,487.2 353.4,487.4C354.8,487.5 357.7,483.6 359.4,482.7C361.1,481.8 364.9,481.1 367.0,480.2C369.1,479.3 374.6,476.3 376.4,475.7C378.2,475.0 379.8,474.6 381.1,475.1C382.4,475.6 385.3,479.3 386.8,479.8C388.3,480.4 392.1,479.3 393.4,479.5C394.7,479.6 395.9,481.2 397.2,481.3C398.5,481.4 401.9,480.0 403.8,480.2C405.7,480.4 410.5,481.8 412.3,482.7C414.0,483.6 416.5,485.4 417.9,487.4C419.3,489.4 422.3,495.8 423.6,498.7C424.9,501.6 427.2,509.0 428.3,511.0C429.4,513.0 431.1,514.6 432.1,514.7C433.0,514.9 434.7,514.0 435.8,511.9C437.0,509.8 440.0,500.6 441.5,497.8C443.0,494.9 446.3,490.4 448.1,489.3C449.9,488.2 452.8,488.9 455.7,488.9C458.5,488.8 467.9,488.5 470.8,488.9C473.6,489.3 476.2,491.1 478.3,492.1C480.4,493.1 485.6,496.5 487.7,497.2C489.9,497.9 493.2,498.2 495.3,497.8C497.4,497.3 501.9,494.9 504.7,493.4C507.5,491.9 514.6,487.3 517.9,485.5C521.2,483.7 527.6,480.3 531.1,478.9C534.7,477.5 543.8,474.8 546.2,474.2C548.6,473.6 548.6,474.0 550.4,474.2C552.2,474.4 558.2,475.2 560.8,475.7C563.3,476.2 569.0,478.1 571.1,478.3C573.3,478.6 575.7,477.5 577.7,477.6C579.7,477.6 584.6,478.6 587.2,478.9C589.8,479.2 596.1,479.4 598.5,479.8C600.8,480.3 604.2,481.5 606.0,482.7C607.9,483.8 611.9,487.3 613.6,489.3C615.2,491.3 618.1,496.3 619.2,498.7C620.4,501.1 622.0,506.0 623.0,508.1C624.1,510.3 626.4,514.4 627.7,515.7C629.0,517.0 632.1,518.7 633.4,518.5C634.7,518.3 636.9,514.4 638.1,513.8C639.3,513.2 641.8,513.1 642.8,513.8C643.9,514.5 645.7,517.8 646.6,519.5C647.5,521.1 649.4,525.7 650.4,527.0C651.3,528.3 653.1,529.6 654.2,529.8C655.2,530.1 657.8,529.7 658.9,528.9C659.9,528.1 661.8,525.1 662.6,523.2C663.5,521.3 664.8,516.0 665.5,513.8C666.2,511.6 667.5,507.0 668.3,505.3C669.1,503.7 670.9,501.8 672.1,500.6C673.3,499.4 676.3,497.8 677.7,495.9C679.2,494.0 682.0,487.4 683.4,485.5C684.8,483.6 687.4,481.9 689.1,480.8C690.7,479.6 695.0,477.1 696.6,476.4C698.3,475.8 700.6,475.6 702.3,475.7C703.9,475.8 708.2,476.2 709.8,477.0C711.5,477.8 713.9,480.3 715.5,481.7C717.0,483.1 720.4,487.1 722.1,488.3C723.7,489.5 727.0,490.5 728.7,491.2C730.3,491.8 733.8,493.4 735.3,493.4C736.8,493.5 739.6,492.3 740.9,491.5C742.2,490.8 743.9,487.9 745.7,487.4C747.4,486.9 753.0,487.1 755.1,487.4C757.2,487.6 760.3,488.7 762.6,489.3C765.0,489.8 771.8,491.4 774.0,491.5C776.1,491.6 778.2,490.7 779.6,490.2C781.0,489.7 783.5,488.3 785.3,487.8C787.1,487.2 791.7,486.7 793.8,485.9C795.9,485.1 800.3,482.6 802.3,481.3C804.3,480.1 807.9,476.8 809.8,476.1C811.7,475.3 815.7,475.5 817.4,475.1C819.0,474.8 820.9,473.5 823.0,473.2C825.1,472.9 832.2,472.6 834.3,472.9C836.5,473.1 838.3,474.8 840.0,475.1C841.7,475.4 845.8,475.5 847.5,475.1C849.3,474.7 852.5,472.7 854.2,471.9C855.8,471.1 858.3,468.9 860.8,468.5C863.2,468.1 870.9,468.3 874.0,468.5C877.0,468.7 882.7,469.5 885.3,470.0C887.9,470.6 891.9,472.2 894.7,472.9C897.5,473.5 904.6,474.6 907.9,475.1C911.2,475.6 917.6,476.6 921.1,477.0C924.7,477.4 933.5,477.9 936.2,477.9C939.0,478.0 941.4,477.7 943.2,477.8C945.0,477.8 948.4,478.4 950.8,478.3C953.1,478.2 959.5,477.0 962.1,476.8C964.7,476.6 969.2,476.1 971.5,476.4C973.9,476.8 978.6,479.0 980.9,479.6C983.3,480.3 988.0,481.5 990.4,481.5C992.7,481.5 997.5,480.2 999.8,479.6C1002.2,479.1 1007.1,477.3 1009.2,476.8C1011.4,476.3 1014.9,475.9 1016.8,475.9C1018.7,475.9 1022.8,476.8 1024.3,476.8C1025.9,476.8 1028.0,477.5 1029.1,475.9C1030.1,474.2 1032.0,467.7 1032.8,463.6C1033.7,459.5 1035.0,448.0 1035.7,442.9C1036.4,437.7 1037.8,425.4 1038.5,422.1C1039.2,418.8 1040.6,416.8 1041.3,416.4C1042.0,416.1 1043.6,416.9 1044.2,419.3C1044.7,421.6 1045.2,431.3 1045.5,435.3C1045.8,439.3 1046.3,449.1 1046.6,451.3C1046.9,453.6 1047.4,453.2 1047.9,453.2C1048.4,453.2 1050.2,453.0 1050.8,451.3C1051.3,449.7 1052.1,440.8 1052.6,440.0C1053.2,439.2 1054.6,443.7 1055.5,444.7C1056.3,445.8 1058.4,446.9 1059.2,448.5C1060.1,450.2 1061.4,455.5 1062.1,457.9C1062.8,460.4 1064.1,466.3 1064.9,468.3C1065.7,470.3 1067.6,472.8 1068.7,474.0C1069.7,475.2 1071.6,477.6 1073.4,478.1C1075.2,478.7 1080.5,478.5 1082.8,478.3C1085.2,478.1 1090.1,476.6 1092.3,476.4C1094.4,476.2 1097.5,476.6 1099.8,476.8C1102.2,477.0 1108.5,477.8 1111.1,478.1C1113.7,478.5 1118.2,479.6 1120.6,479.6C1122.9,479.7 1127.6,479.2 1130.0,478.7C1132.4,478.2 1136.8,476.1 1139.4,475.3C1142.0,474.5 1147.7,473.0 1150.8,472.7C1153.8,472.3 1161.1,472.3 1164.0,472.7C1166.8,473.0 1171.0,474.3 1173.4,475.3C1175.8,476.3 1180.9,479.7 1182.8,480.6C1184.7,481.5 1185.9,482.2 1188.5,482.5C1191.1,482.7 1200.5,482.8 1203.6,482.5C1206.7,482.2 1210.0,480.4 1213.0,480.0C1216.1,479.7 1225.0,479.9 1228.1,479.6C1231.2,479.4 1235.0,477.8 1237.5,477.8C1240.1,477.7 1246.7,478.4 1248.9,479.3C1251.1,480.1 1253.5,483.4 1255.1,484.5C1256.7,485.6 1259.8,487.3 1261.7,487.8C1263.6,488.3 1268.6,488.7 1270.2,488.3C1271.9,487.8 1273.8,484.9 1274.9,484.0C1276.1,483.1 1278.4,481.5 1279.7,481.2C1281.0,480.9 1283.9,481.0 1285.3,481.7C1286.7,482.4 1289.8,485.9 1291.0,486.9C1292.2,487.9 1293.6,489.5 1294.8,489.7C1295.9,489.9 1299.1,489.1 1300.4,488.7C1301.7,488.4 1304.1,487.0 1305.2,486.9C1306.2,486.7 1308.0,487.2 1308.9,487.8C1309.9,488.5 1311.8,491.3 1312.7,492.1C1313.7,492.8 1315.5,493.0 1316.5,493.5C1317.4,493.9 1319.4,494.6 1320.3,495.8C1321.1,497.0 1322.3,500.8 1323.1,502.9C1323.9,505.0 1326.0,510.0 1326.9,512.4C1327.7,514.7 1328.9,519.2 1329.7,521.8C1330.5,524.4 1332.7,530.5 1333.5,533.1C1334.3,535.7 1335.7,540.2 1336.3,542.6C1336.9,544.9 1337.7,549.1 1338.2,552.0C1338.7,555.0 1339.7,562.6 1340.1,566.2C1340.5,569.7 1341.2,576.3 1341.5,580.3C1341.9,584.4 1342.7,595.8 1342.9,598.8C1343.2,601.7 1343.4,599.5 1343.6,603.6C1343.9,607.8 1344.6,624.9 1344.9,632.0C1345.3,639.0 1346.1,653.2 1346.4,660.3C1346.7,667.4 1347.1,681.5 1347.4,688.6C1347.6,695.7 1348.0,709.8 1348.3,716.9C1348.6,724.0 1349.3,739.3 1349.6,745.2C1350.0,751.1 1350.7,761.6 1351.2,764.1C1351.6,766.6 1352.5,766.7 1353.0,765.0C1353.6,763.4 1354.8,756.9 1355.3,750.9C1355.8,744.9 1356.8,723.7 1357.2,716.9C1357.6,710.1 1358.3,700.3 1358.7,696.1C1359.1,692.0 1360.0,685.3 1360.6,683.9C1361.2,682.5 1362.7,682.1 1363.2,684.8C1363.8,687.5 1364.7,700.4 1365.1,705.6C1365.5,710.8 1366.2,720.2 1366.6,726.3C1367.1,732.5 1368.0,747.6 1368.5,754.7C1369.0,761.7 1369.9,776.1 1370.4,783.0C1370.9,789.8 1372.1,804.7 1372.7,809.4C1373.3,814.1 1373.3,819.2 1375.1,820.7C1377.0,822.2 1385.4,822.0 1387.4,821.3C1389.4,820.6 1390.0,818.7 1390.8,815.1C1391.6,811.5 1393.3,798.8 1394.0,792.4C1394.7,786.0 1395.9,771.6 1396.5,764.1C1397.0,756.5 1397.9,737.9 1398.3,732.0C1398.8,726.1 1399.7,719.1 1400.2,716.9C1400.8,714.7 1401.9,713.8 1402.5,714.1C1403.1,714.3 1404.7,716.3 1405.3,718.8C1405.9,721.3 1406.7,731.3 1407.2,733.9C1407.7,736.5 1408.5,740.0 1409.1,739.6C1409.7,739.1 1411.3,734.1 1411.9,730.1C1412.5,726.1 1413.4,713.8 1413.8,707.5C1414.3,701.1 1415.2,686.2 1415.7,679.2C1416.2,672.1 1417.1,658.6 1417.6,650.8C1418.1,643.1 1419.3,624.4 1419.9,616.9C1420.5,609.3 1421.7,595.4 1422.3,590.4C1422.9,585.5 1424.2,578.9 1424.8,577.2C1425.4,575.5 1426.3,575.7 1427.0,576.8C1427.8,578.0 1430.1,582.6 1430.8,586.7C1431.5,590.7 1432.3,603.2 1432.7,609.3C1433.1,615.4 1433.9,630.1 1434.2,635.7C1434.6,641.4 1435.1,652.0 1435.5,654.6C1435.9,657.2 1436.9,657.2 1437.4,656.5C1438.0,655.8 1439.3,652.3 1439.9,649.0C1440.4,645.6 1441.4,634.1 1441.8,630.1C1442.2,626.1 1442.6,619.7 1443.1,616.9C1443.6,614.0 1445.2,610.7 1445.9,607.4C1446.6,604.1 1447.9,595.9 1448.7,590.4C1449.6,585.0 1451.6,569.0 1452.5,564.0C1453.5,559.0 1455.4,554.1 1456.3,550.8C1457.2,547.5 1459.1,539.9 1460.1,537.6C1461.0,535.3 1462.8,532.6 1463.8,532.3C1464.9,531.9 1467.4,534.1 1468.6,534.7C1469.7,535.4 1472.4,534.9 1473.3,537.6C1474.2,540.3 1475.0,550.6 1475.7,556.5C1476.4,562.4 1478.1,577.7 1478.9,584.8C1479.7,591.8 1481.4,606.0 1482.2,613.1C1482.9,620.2 1483.9,634.3 1484.6,641.4C1485.3,648.5 1486.9,662.6 1487.4,669.7C1488.0,676.8 1488.9,691.0 1489.3,698.0C1489.8,705.1 1490.8,719.3 1491.2,726.3C1491.6,733.4 1492.2,747.6 1492.5,754.7C1492.8,761.7 1493.4,776.6 1493.7,783.0C1493.9,789.3 1494.3,801.1 1494.6,805.6C1494.9,810.1 1495.5,817.9 1495.9,818.8C1496.4,819.8 1497.9,817.7 1498.4,813.2C1498.9,808.7 1499.4,791.5 1499.7,783.0C1500.0,774.5 1500.7,754.7 1501.0,745.2C1501.3,735.8 1501.9,715.7 1502.2,707.5C1502.4,699.2 1502.7,686.2 1502.9,679.2C1503.2,672.1 1503.6,656.0 1504.1,650.8C1504.5,645.6 1505.6,639.7 1506.3,637.6C1507.1,635.5 1509.3,636.0 1510.1,633.8C1510.9,631.7 1512.3,624.2 1512.9,620.6C1513.5,617.1 1514.2,607.9 1514.8,605.5C1515.4,603.2 1516.8,602.2 1517.6,601.8C1518.5,601.3 1520.6,602.7 1521.4,601.8C1522.2,600.8 1523.7,596.3 1524.3,594.2C1524.8,592.1 1525.7,586.2 1526.1,584.8C1526.6,583.4 1527.6,582.6 1528.0,582.9C1528.5,583.1 1529.5,584.1 1529.9,586.7C1530.3,589.3 1530.9,598.0 1531.2,603.6C1531.6,609.3 1532.4,624.9 1532.7,632.0C1533.1,639.0 1533.6,653.2 1533.9,660.3C1534.2,667.4 1534.7,682.7 1535.0,688.6C1535.3,694.5 1536.1,704.5 1536.5,707.5C1536.9,710.4 1537.9,712.2 1538.4,712.2C1538.9,712.2 1540.2,710.4 1540.7,707.5C1541.2,704.5 1542.1,693.3 1542.6,688.6C1543.0,683.9 1543.7,674.4 1544.1,669.7C1544.5,665.0 1545.2,655.6 1545.6,650.8C1546.0,646.1 1547.0,635.4 1547.5,632.0C1547.9,628.5 1548.8,624.4 1549.4,623.5C1549.9,622.5 1551.3,622.9 1552.0,624.4C1552.7,625.9 1554.4,631.3 1555.0,635.7C1555.7,640.2 1556.8,653.7 1557.3,660.3C1557.8,666.9 1558.7,681.5 1559.2,688.6C1559.6,695.7 1560.6,709.8 1561.1,716.9C1561.5,724.0 1562.1,738.1 1562.6,745.2C1563.0,752.3 1564.2,766.9 1564.8,773.5C1565.5,780.1 1566.8,792.9 1567.7,798.1C1568.5,803.3 1570.6,812.2 1571.4,815.1C1572.3,818.0 1573.1,820.5 1574.3,821.3C1575.5,822.1 1579.6,822.3 1580.9,821.3C1582.2,820.3 1583.8,816.8 1584.7,813.2C1585.5,809.6 1586.8,798.5 1587.5,792.4C1588.2,786.3 1589.6,770.5 1590.3,764.1C1591.0,757.7 1592.4,746.6 1593.2,741.4C1593.9,736.3 1595.3,727.1 1596.0,722.6C1596.7,718.1 1598.0,708.4 1598.8,705.6C1599.6,702.7 1601.8,700.9 1602.6,699.9C1603.4,699.0 1604.9,697.1 1605.4,698.0C1605.9,699.0 1606.4,703.9 1606.7,707.5C1607.1,711.0 1607.9,720.4 1608.3,726.3C1608.6,732.2 1609.4,748.3 1609.8,754.7C1610.1,761.0 1610.6,773.4 1611.1,777.3C1611.6,781.2 1612.9,785.3 1613.5,785.8C1614.1,786.3 1615.3,785.0 1615.8,781.1C1616.3,777.2 1616.9,760.8 1617.3,754.7C1617.7,748.5 1618.7,735.8 1619.2,732.0C1619.7,728.2 1620.6,724.7 1621.1,724.5C1621.6,724.2 1622.8,726.3 1623.4,730.1C1623.9,733.9 1624.8,748.1 1625.2,754.7C1625.7,761.3 1626.7,777.1 1627.1,783.0C1627.6,788.9 1628.5,797.8 1629.0,801.9C1629.5,805.9 1630.3,812.6 1630.9,815.1C1631.5,817.5 1632.7,821.0 1633.7,821.7C1634.8,822.4 1638.0,821.3 1639.4,820.7C1640.8,820.1 1643.9,818.6 1645.1,817.0C1646.2,815.3 1648.0,809.2 1648.8,807.5C1649.7,805.9 1651.3,803.7 1652.0,803.7C1652.8,803.7 1653.8,805.6 1654.5,807.5C1655.2,809.4 1656.5,817.3 1657.3,818.8C1658.2,820.4 1660.2,820.1 1661.1,819.8C1662.1,819.4 1663.8,816.4 1664.9,816.0C1665.9,815.7 1668.7,818.7 1669.6,817.0C1670.5,815.2 1671.8,807.3 1672.4,801.9C1673.0,796.4 1673.9,780.6 1674.3,773.5C1674.7,766.5 1675.4,750.9 1675.8,745.2C1676.3,739.6 1677.2,730.9 1677.7,728.2C1678.2,725.5 1679.4,723.3 1680.0,723.5C1680.6,723.7 1681.7,726.2 1682.3,730.1C1682.8,734.0 1684.1,748.1 1684.7,754.7C1685.3,761.3 1686.6,777.1 1687.2,783.0C1687.7,788.9 1688.5,799.1 1689.0,801.9C1689.6,804.6 1690.6,804.9 1691.3,804.7C1692.1,804.4 1694.3,802.7 1695.1,800.0C1695.9,797.3 1697.3,788.6 1697.9,783.0C1698.5,777.3 1699.4,760.6 1699.8,754.7C1700.2,748.8 1700.7,739.4 1701.1,735.8C1701.5,732.1 1702.5,726.3 1703.0,725.4C1703.5,724.5 1704.5,725.8 1704.9,728.2C1705.3,730.7 1705.7,741.2 1706.4,745.2C1707.1,749.2 1709.7,754.8 1710.6,760.2C1711.6,765.6 1713.3,783.4 1714.2,788.5C1715.0,793.7 1716.8,800.9 1717.7,801.5C1718.6,802.1 1720.4,796.3 1721.2,793.2C1722.1,790.1 1724.0,780.6 1724.8,776.7C1725.6,772.9 1726.8,768.6 1727.8,762.6C1728.9,756.6 1732.1,736.7 1733.0,728.7C1733.8,720.7 1734.1,706.4 1734.5,698.8C1734.9,691.2 1735.6,675.8 1736.0,668.1C1736.4,660.4 1737.3,645.1 1737.9,637.4C1738.4,629.8 1739.7,614.0 1740.3,606.8C1740.9,599.5 1742.2,585.7 1742.9,579.1C1743.6,572.6 1745.2,560.0 1746.0,554.6C1746.8,549.2 1748.3,540.0 1749.1,536.2C1749.8,532.4 1751.4,526.4 1752.1,523.9C1752.9,521.4 1754.4,517.3 1755.2,516.3C1756.0,515.2 1757.7,513.8 1758.3,515.5C1758.8,517.2 1759.5,525.6 1759.8,530.1C1760.1,534.6 1760.5,547.5 1760.9,551.5C1761.2,555.6 1762.0,561.5 1762.4,562.3C1762.8,563.0 1764.0,560.7 1764.4,557.7C1764.8,554.6 1765.5,542.5 1765.9,537.7C1766.3,532.9 1767.0,522.2 1767.5,519.3C1767.9,516.4 1769.1,515.2 1769.8,514.7C1770.4,514.2 1772.2,513.6 1772.8,515.5C1773.4,517.4 1774.3,525.2 1774.7,530.1C1775.1,534.9 1775.7,548.5 1775.9,554.6C1776.2,560.7 1776.5,572.6 1776.7,579.1C1776.9,585.7 1777.2,599.5 1777.4,606.8C1777.6,614.0 1778.0,629.8 1778.2,637.4C1778.4,645.1 1779.0,661.4 1779.3,668.1C1779.6,674.8 1780.2,687.3 1780.5,691.1C1780.8,695.0 1781.4,699.4 1782.0,698.8C1782.7,698.2 1785.1,689.0 1785.9,686.5C1786.6,684.0 1787.6,678.3 1788.2,678.9C1788.7,679.4 1789.9,688.0 1790.5,691.1C1791.1,694.3 1792.2,703.4 1792.8,704.2C1793.4,704.9 1794.7,700.8 1795.1,697.3C1795.5,693.7 1795.9,682.3 1796.2,675.8C1796.4,669.3 1796.8,652.8 1797.1,645.1C1797.3,637.4 1797.7,620.2 1798.1,614.4C1798.6,608.7 1800.1,604.8 1800.8,599.1C1801.4,593.3 1802.6,573.4 1803.2,568.4C1803.8,563.4 1805.2,562.1 1805.8,559.2C1806.4,556.3 1807.3,548.5 1807.8,545.4C1808.3,542.3 1809.0,536.1 1809.7,534.7C1810.3,533.2 1812.0,532.9 1812.7,533.9C1813.4,534.9 1814.5,539.0 1815.0,542.3C1815.6,545.7 1816.5,556.1 1817.0,560.7C1817.5,565.3 1818.3,576.5 1818.9,579.1C1819.4,581.8 1820.6,582.6 1821.2,582.2C1821.7,581.8 1823.0,578.4 1823.5,576.1C1823.9,573.8 1824.5,565.5 1825.0,563.8C1825.5,562.1 1826.8,560.7 1827.3,562.3C1827.8,563.8 1828.5,571.5 1828.8,576.1C1829.2,580.7 1829.6,593.3 1829.9,599.1C1830.1,604.8 1830.6,617.1 1830.8,622.1C1831.1,627.1 1831.5,636.6 1831.9,639.0C1832.3,641.4 1833.6,642.4 1834.2,641.3C1834.8,640.1 1835.8,630.6 1836.5,629.8C1837.2,628.9 1839.0,635.3 1839.6,634.4C1840.1,633.4 1840.8,625.5 1841.1,622.1C1841.4,618.6 1841.8,609.8 1842.2,606.8C1842.6,603.7 1843.6,598.7 1844.2,597.6C1844.7,596.4 1846.2,596.0 1846.8,597.6C1847.3,599.1 1848.3,605.8 1848.8,609.8C1849.2,613.9 1849.9,624.4 1850.3,629.8C1850.7,635.1 1851.5,647.0 1851.8,652.8C1852.2,658.5 1853.0,670.6 1853.4,675.8C1853.8,681.0 1854.4,691.3 1854.9,694.2C1855.4,697.1 1856.7,699.8 1857.2,698.8C1857.7,697.8 1858.3,687.7 1858.7,686.5C1859.2,685.4 1860.5,687.1 1861.0,689.6C1861.6,692.1 1862.9,701.6 1863.3,706.5C1863.8,711.4 1864.6,724.6 1864.9,728.7C1865.1,732.8 1864.8,740.7 1865.2,739.4C1865.5,738.2 1867.2,727.0 1867.7,718.7C1868.1,710.5 1868.6,684.9 1868.9,673.5C1869.2,662.0 1870.0,638.9 1870.4,627.4C1870.9,615.9 1872.0,591.0 1872.6,581.4C1873.2,571.8 1874.8,557.1 1875.3,550.7C1875.9,544.4 1876.8,533.6 1877.2,530.8C1877.6,528.0 1878.2,527.5 1878.7,528.0C1879.2,528.6 1880.6,533.6 1881.2,535.4C1881.7,537.2 1882.6,543.1 1883.0,542.8C1883.4,542.4 1884.2,536.1 1884.5,532.3C1884.9,528.5 1885.2,516.8 1885.5,512.4C1885.8,508.0 1886.4,500.3 1886.8,497.0C1887.3,493.8 1888.5,488.2 1889.1,486.3C1889.8,484.4 1891.4,482.5 1892.2,481.7C1893.1,480.9 1895.2,479.8 1896.0,480.2C1896.9,480.6 1898.4,482.5 1899.1,484.8C1899.8,487.1 1900.9,494.2 1901.4,498.6C1901.9,503.0 1902.7,513.5 1903.0,520.1C1903.2,526.6 1903.5,543.5 1903.7,550.7C1903.9,558.0 1904.4,573.9 1904.8,578.4C1905.2,582.8 1906.3,584.7 1906.8,586.0C1907.2,587.4 1907.9,586.8 1908.3,589.1C1908.7,591.4 1909.4,601.7 1909.9,604.4C1910.3,607.1 1911.6,609.9 1912.2,610.6C1912.7,611.2 1914.0,607.7 1914.5,609.8C1914.9,611.9 1915.6,621.4 1916.0,627.4C1916.4,633.5 1917.1,650.4 1917.5,658.1C1917.9,665.8 1918.7,681.2 1919.1,688.8C1919.4,696.4 1920.3,707.4 1920.6,718.7C1920.9,730.0 1921.1,767.0 1921.4,779.1C1921.7,791.2 1922.5,818.6 1923.0,815.7C1923.5,812.7 1924.8,767.6 1925.4,755.5C1925.9,743.4 1927.1,729.0 1927.5,718.7C1927.9,708.5 1928.0,684.9 1928.3,673.5C1928.5,662.0 1929.0,636.1 1929.3,627.4C1929.6,618.8 1930.1,607.1 1930.6,604.4C1931.0,601.7 1932.4,603.1 1932.9,606.0C1933.3,608.8 1934.1,620.9 1934.4,627.4C1934.7,634.0 1935.0,650.4 1935.2,658.1C1935.4,665.8 1935.6,682.7 1935.9,688.8C1936.2,694.9 1937.0,707.2 1937.5,707.2C1937.9,707.2 1939.3,694.9 1939.8,688.8C1940.2,682.7 1941.0,667.7 1941.3,658.1C1941.6,648.5 1942.2,623.6 1942.5,612.1C1942.8,600.6 1943.4,575.7 1943.6,566.1C1943.8,556.5 1944.2,541.2 1944.4,535.4C1944.6,529.6 1944.7,522.4 1945.1,520.1C1945.6,517.8 1947.5,518.1 1948.2,517.0C1948.9,515.8 1950.0,511.9 1950.5,510.9C1951.0,509.8 1951.8,508.0 1952.3,508.6C1952.9,509.1 1954.4,514.0 1955.1,515.5C1955.8,516.9 1957.4,520.1 1958.2,520.1C1958.9,520.1 1960.5,515.6 1961.2,515.5C1962.0,515.3 1963.7,516.4 1964.3,518.5C1964.9,520.6 1965.5,528.3 1965.8,532.3C1966.2,536.4 1967.0,546.9 1967.4,550.7C1967.8,554.6 1968.4,562.6 1968.9,563.0C1969.4,563.4 1970.7,556.9 1971.2,553.8C1971.7,550.7 1972.3,541.5 1972.7,538.5C1973.2,535.4 1974.4,530.5 1975.0,529.3C1975.7,528.0 1977.3,528.1 1978.1,528.5C1979.0,528.9 1981.1,531.1 1982.0,532.3C1982.8,533.6 1984.4,535.2 1985.0,538.5C1985.6,541.7 1986.2,553.0 1986.6,558.4C1986.9,563.8 1987.7,575.7 1988.1,581.4C1988.5,587.2 1989.2,599.1 1989.6,604.4C1990.0,609.8 1990.7,621.3 1991.2,624.4C1991.6,627.4 1992.9,630.5 1993.5,629.0C1994.0,627.4 1995.3,616.1 1995.8,612.1C1996.2,608.1 1996.7,599.2 1997.3,596.8C1997.9,594.4 1999.7,592.0 2000.4,592.9C2001.0,593.9 2002.2,601.6 2002.7,604.4C2003.1,607.2 2003.7,614.2 2004.2,615.2C2004.7,616.1 2006.0,615.4 2006.5,612.1C2007.0,608.8 2007.6,595.8 2008.0,589.1C2008.4,582.4 2009.1,564.4 2009.6,558.4C2010.0,552.5 2011.3,543.9 2011.9,541.5C2012.4,539.1 2013.7,536.2 2014.2,539.2C2014.6,542.3 2015.3,561.4 2015.7,566.1C2016.1,570.8 2016.8,576.8 2017.2,576.8C2017.7,576.8 2019.1,570.1 2019.5,566.1C2020.0,562.1 2020.6,547.3 2021.1,544.6C2021.5,541.9 2022.5,541.9 2022.9,544.6C2023.3,547.3 2023.9,559.6 2024.1,566.1C2024.3,572.6 2024.5,589.1 2024.6,596.8C2024.7,604.4 2024.9,619.8 2025.1,627.4C2025.2,635.1 2025.4,651.4 2025.5,658.1C2025.6,664.8 2025.7,677.2 2025.8,681.1C2026.0,685.1 2026.3,689.6 2026.6,689.6C2026.8,689.6 2027.5,687.0 2027.8,681.1C2028.1,675.3 2028.7,653.3 2029.0,642.8C2029.4,632.2 2030.2,608.3 2030.6,596.8C2031.0,585.3 2031.7,559.0 2032.1,550.7C2032.5,542.5 2033.3,534.6 2033.6,530.8C2034.0,527.0 2034.4,523.3 2034.9,520.1C2035.3,516.8 2036.4,509.0 2037.2,504.9C2037.9,500.8 2039.8,490.5 2040.7,487.2C2041.6,484.0 2043.2,480.7 2044.1,478.6C2045.0,476.6 2047.6,471.7 2048.1,470.7"/>
<path stroke="#00f" d="M160.0,657.5C162.3,657.5 174.1,657.5 178.3,657.5C182.5,657.5 189.9,657.5 193.4,657.5C196.9,657.5 204.4,658.0 206.6,657.5C208.8,657.1 210.1,654.0 211.3,653.8C212.5,653.5 214.5,655.8 216.0,655.7C217.6,655.5 221.9,653.4 223.6,652.8C225.2,652.2 227.9,651.1 229.2,650.9C230.5,650.8 232.8,652.2 234.0,651.9C235.1,651.5 237.3,647.9 238.3,648.1C239.3,648.3 241.1,653.5 242.1,653.8C243.1,654.0 245.1,650.2 246.2,650.0C247.3,649.8 249.7,652.0 250.9,651.9C252.2,651.8 254.7,649.2 256.0,649.4C257.3,649.7 260.1,653.6 261.3,653.8C262.6,654.0 264.7,650.7 266.0,650.9C267.3,651.2 270.3,655.2 271.7,655.7C273.1,656.1 276.2,654.6 277.4,654.7C278.5,654.8 279.8,656.6 281.1,656.6C282.4,656.6 286.2,655.5 287.7,654.7C289.2,653.9 291.8,650.2 293.0,650.0C294.2,649.8 296.0,652.9 297.2,652.8C298.3,652.8 301.2,649.3 302.5,649.4C303.8,649.6 306.3,653.0 307.5,653.8C308.8,654.6 311.2,655.5 312.3,655.7C313.3,655.8 315.0,653.8 316.0,654.7C317.1,655.7 319.5,661.6 320.8,663.2C322.1,664.9 325.2,666.7 326.4,667.9C327.6,669.1 329.1,672.1 330.2,672.6C331.2,673.2 333.6,671.7 334.9,672.6C336.2,673.6 339.3,679.6 340.6,680.2C341.9,680.8 344.3,677.9 345.3,677.4C346.2,676.8 347.2,675.0 348.1,675.5C349.0,675.9 351.2,680.4 352.3,680.8C353.3,681.1 355.7,679.0 356.6,678.3C357.5,677.6 358.4,675.6 359.4,675.1C360.5,674.6 363.7,674.4 365.1,674.0C366.5,673.5 369.1,671.7 370.8,671.3C372.4,671.0 376.7,670.8 378.3,671.3C380.0,671.8 382.6,674.4 384.0,675.5C385.3,676.6 388.1,679.6 389.2,680.2C390.4,680.8 392.5,679.8 393.4,680.2C394.3,680.5 394.9,682.8 396.2,683.0C397.5,683.3 401.9,681.8 403.8,682.1C405.7,682.3 409.7,683.8 411.3,684.9C412.9,686.0 415.2,688.4 416.4,690.6C417.6,692.7 419.7,698.8 420.8,701.9C421.8,705.0 423.7,711.8 424.5,715.1C425.4,718.4 426.7,725.8 427.4,728.3C428.1,730.8 429.5,734.1 430.2,734.9C430.9,735.7 432.2,736.0 433.0,734.9C433.8,733.8 435.5,729.4 436.4,726.4C437.3,723.5 439.2,714.7 440.2,711.3C441.1,707.9 442.9,701.3 444.0,699.1C445.1,696.8 447.6,694.4 449.1,693.4C450.5,692.4 453.8,691.8 455.7,690.9C457.5,690.1 462.3,687.5 464.2,686.8C466.0,686.0 469.0,685.0 470.8,684.9C472.5,684.9 476.3,685.6 478.3,686.4C480.3,687.2 485.0,690.8 486.8,691.5C488.6,692.3 490.9,692.7 492.5,692.5C494.0,692.2 497.3,690.3 499.1,689.6C500.8,688.9 504.5,688.1 506.6,686.8C508.7,685.5 513.8,680.7 516.0,679.2C518.3,677.8 521.9,675.8 524.5,675.1C527.1,674.4 534.9,673.8 536.8,673.6C538.7,673.3 538.4,673.3 540.0,673.2C541.6,673.2 547.2,672.9 549.4,673.2C551.7,673.5 556.0,674.8 557.9,675.7C559.8,676.6 563.0,679.4 564.5,680.4C566.1,681.3 568.5,682.9 570.2,683.2C571.8,683.6 575.8,682.9 577.7,683.2C579.6,683.6 583.4,685.6 585.3,686.0C587.2,686.5 590.9,686.5 592.8,687.0C594.7,687.5 598.5,689.0 600.4,689.8C602.3,690.6 606.4,692.5 607.9,693.6C609.5,694.6 611.6,696.7 612.6,698.3C613.7,700.0 615.5,704.1 616.4,706.8C617.4,709.5 619.4,716.7 620.2,720.0C621.0,723.3 622.2,730.1 623.0,733.2C623.8,736.3 625.9,742.1 626.8,744.5C627.7,747.0 629.2,751.6 630.2,753.0C631.1,754.4 633.3,755.6 634.3,755.8C635.3,756.1 637.3,755.4 638.1,754.9C638.9,754.4 640.2,751.9 640.9,751.7C641.7,751.5 643.5,751.8 644.2,753.0C644.8,754.2 645.5,758.9 646.0,761.5C646.6,764.1 647.8,770.8 648.5,773.8C649.2,776.7 650.6,783.0 651.3,785.1C652.0,787.2 653.3,789.7 654.2,790.8C655.0,791.8 657.0,793.6 657.9,793.2C658.9,792.9 660.9,788.9 661.7,787.9C662.5,786.9 663.5,784.9 664.2,785.1C664.8,785.3 666.2,788.6 666.8,789.8C667.4,791.1 668.6,795.1 669.2,795.1C669.9,795.1 671.2,792.8 671.7,789.8C672.2,786.8 672.7,775.7 673.0,770.9C673.3,766.2 673.9,756.8 674.3,752.1C674.7,747.4 675.7,737.5 676.2,733.2C676.8,729.0 678.0,721.2 678.7,718.1C679.3,715.0 680.7,710.6 681.5,708.7C682.3,706.8 683.8,703.8 685.3,703.0C686.8,702.3 692.2,703.2 693.8,702.6C695.4,702.1 697.4,699.6 698.1,698.3C698.8,697.1 698.7,693.9 699.4,692.6C700.2,691.3 702.9,688.8 704.2,687.9C705.4,687.1 708.5,685.9 709.8,686.0C711.1,686.2 713.5,687.8 714.5,688.9C715.6,689.9 717.2,693.1 718.3,694.5C719.4,695.9 721.5,699.3 723.0,700.2C724.6,701.1 728.7,701.3 730.6,701.5C732.5,701.7 736.5,701.8 738.1,701.5C739.8,701.2 742.5,700.0 743.8,699.2C745.1,698.5 747.1,696.3 748.5,695.8C749.9,695.4 753.4,695.3 755.1,695.8C756.7,696.4 760.0,699.3 761.7,700.2C763.3,701.1 766.5,702.8 768.3,703.0C770.1,703.3 774.2,702.8 775.8,702.1C777.5,701.4 780.1,698.5 781.5,697.4C782.9,696.2 785.5,693.9 787.2,693.2C788.8,692.5 792.6,692.4 794.7,691.7C796.8,691.0 802.0,689.1 804.2,687.9C806.3,686.7 809.8,683.2 811.7,682.3C813.6,681.4 816.7,680.9 819.2,680.8C821.8,680.6 829.9,680.5 832.5,680.9C835.0,681.4 838.2,684.0 840.0,684.5C841.8,685.0 845.0,685.6 846.6,685.1C848.3,684.6 851.4,681.7 853.2,680.4C855.0,679.1 858.9,675.4 860.8,674.7C862.6,674.0 866.4,674.7 868.3,674.7C870.2,674.8 873.7,675.2 875.8,675.1C878.0,675.0 883.2,673.8 885.3,673.8C887.4,673.7 890.5,674.6 892.8,674.7C895.2,674.9 901.7,674.3 904.2,675.1C906.6,675.9 910.9,679.8 912.6,681.3C914.4,682.8 917.0,685.8 918.3,687.0C919.6,688.2 921.7,690.5 923.0,690.8C924.3,691.0 927.8,689.3 928.7,688.9C929.6,688.5 928.9,687.7 930.0,687.5C931.1,687.4 935.3,687.1 937.5,687.5C939.8,687.9 945.3,690.4 947.9,690.8C950.5,691.2 956.3,690.2 958.3,690.8C960.3,691.3 962.7,693.7 964.0,695.5C965.3,697.2 967.5,703.4 968.7,704.9C969.9,706.4 972.1,706.7 973.4,707.2C974.7,707.6 977.4,707.5 979.1,708.7C980.7,709.8 984.7,714.9 986.6,716.2C988.5,717.5 992.5,718.5 994.2,719.1C995.8,719.6 998.5,720.2 999.8,720.9C1001.1,721.7 1003.3,724.4 1004.5,724.7C1005.7,725.0 1008.1,724.2 1009.2,723.4C1010.4,722.6 1012.9,719.6 1014.0,718.1C1015.0,716.6 1016.1,712.4 1017.7,711.5C1019.4,710.6 1025.5,711.7 1027.2,710.9C1028.8,710.2 1030.1,707.8 1030.9,705.8C1031.8,703.9 1033.1,698.7 1033.8,695.5C1034.4,692.3 1035.4,683.4 1036.0,680.4C1036.6,677.3 1037.8,672.5 1038.5,670.9C1039.2,669.4 1040.7,668.3 1041.3,668.1C1042.0,667.9 1043.1,668.1 1043.6,669.4C1044.1,670.7 1044.7,676.5 1045.1,678.5C1045.5,680.4 1046.4,684.3 1047.0,685.1C1047.6,685.9 1049.2,685.8 1049.8,685.1C1050.4,684.4 1051.0,680.4 1051.7,679.4C1052.4,678.5 1054.6,677.9 1055.5,677.5C1056.3,677.2 1057.6,676.7 1058.3,677.0C1059.0,677.2 1060.4,678.3 1061.1,679.4C1061.8,680.6 1063.3,684.6 1064.0,686.0C1064.7,687.5 1066.0,690.0 1066.8,690.8C1067.6,691.5 1069.5,692.0 1070.6,692.1C1071.6,692.1 1074.2,691.1 1075.3,691.3C1076.3,691.6 1078.1,693.6 1079.1,694.0C1080.0,694.4 1081.9,694.9 1082.8,694.5C1083.8,694.1 1085.5,691.8 1086.6,690.8C1087.7,689.7 1089.0,686.6 1091.3,686.0C1093.7,685.4 1102.9,685.4 1105.5,686.0C1108.1,686.7 1110.3,690.5 1112.1,691.3C1113.8,692.1 1118.0,691.9 1119.6,692.6C1121.3,693.3 1124.0,696.3 1125.3,697.0C1126.6,697.6 1128.5,698.0 1130.0,697.7C1131.5,697.4 1135.8,695.8 1137.5,694.5C1139.3,693.3 1142.5,689.1 1144.2,687.9C1145.8,686.7 1149.0,685.4 1150.8,685.1C1152.5,684.7 1156.5,684.7 1158.3,685.1C1160.1,685.5 1163.1,687.1 1164.9,688.3C1166.7,689.5 1170.9,692.7 1172.5,694.5C1174.0,696.4 1175.9,701.4 1177.2,703.0C1178.5,704.7 1181.4,707.1 1182.8,707.7C1184.2,708.3 1187.0,708.2 1188.5,707.7C1190.0,707.3 1192.7,704.3 1195.1,704.0C1197.5,703.6 1205.1,704.0 1207.4,704.9C1209.6,705.8 1211.8,709.9 1213.0,711.5C1214.2,713.2 1215.8,717.2 1216.8,718.1C1217.7,719.1 1219.6,719.8 1220.6,719.1C1221.5,718.3 1223.3,714.3 1224.3,712.5C1225.4,710.6 1227.9,705.5 1229.1,704.0C1230.2,702.4 1232.2,700.7 1233.8,700.2C1235.3,699.6 1239.7,699.7 1241.3,699.6C1243.0,699.5 1245.8,698.8 1247.0,699.2C1248.2,699.7 1249.8,701.4 1250.8,703.0C1251.7,704.7 1253.6,710.2 1254.5,712.5C1255.5,714.7 1257.2,719.3 1258.3,720.9C1259.4,722.6 1261.6,725.2 1263.0,725.7C1264.4,726.1 1267.9,725.3 1269.6,724.7C1271.4,724.1 1275.7,721.4 1277.2,720.9C1278.6,720.5 1280.4,720.1 1281.3,720.9C1282.3,721.8 1283.9,725.3 1284.7,727.5C1285.5,729.8 1286.8,736.5 1287.5,738.9C1288.3,741.2 1289.6,745.4 1290.4,746.4C1291.2,747.5 1293.2,748.3 1294.2,747.4C1295.1,746.4 1297.0,741.2 1297.9,738.9C1298.9,736.5 1300.8,730.8 1301.7,728.5C1302.6,726.1 1304.3,721.8 1305.5,720.0C1306.7,718.2 1309.8,715.5 1311.1,714.3C1312.4,713.2 1314.7,711.1 1315.8,710.9C1317.0,710.8 1319.5,711.6 1320.6,713.4C1321.6,715.2 1323.5,722.7 1324.3,725.7C1325.2,728.6 1326.5,734.1 1327.2,737.0C1327.8,739.9 1328.7,745.0 1329.5,748.9C1330.2,752.9 1332.4,763.5 1333.4,768.4C1334.3,773.3 1336.4,783.0 1337.3,787.9C1338.1,792.7 1339.6,802.5 1340.2,807.4C1340.8,812.2 1341.7,822.0 1342.1,826.8C1342.5,831.7 1343.2,841.4 1343.5,846.3C1343.8,851.2 1344.4,860.9 1344.7,865.8C1344.9,870.6 1345.2,880.4 1345.4,885.2C1345.7,890.1 1346.2,899.8 1346.4,904.7C1346.7,909.6 1347.2,919.3 1347.4,924.2C1347.6,929.0 1348.0,938.8 1348.2,943.6C1348.4,948.5 1348.7,958.2 1348.9,963.1C1349.2,968.0 1349.7,978.8 1349.9,982.6C1350.2,986.4 1350.5,992.8 1350.9,993.3C1351.3,993.8 1352.7,990.3 1353.2,986.5C1353.7,982.7 1354.3,969.0 1354.8,963.1C1355.2,957.3 1356.2,944.6 1356.7,939.8C1357.2,934.9 1358.1,926.9 1358.7,924.2C1359.2,921.5 1360.4,918.6 1361.0,918.3C1361.6,918.1 1363.0,919.1 1363.5,922.2C1364.1,925.4 1365.0,938.5 1365.5,943.6C1366.0,948.8 1367.0,958.2 1367.4,963.1C1367.9,968.0 1368.4,977.7 1368.8,982.6C1369.2,987.5 1370.2,997.9 1370.7,1002.1C1371.3,1006.2 1372.6,1013.3 1373.3,1015.7C1374.0,1018.1 1374.4,1020.5 1376.2,1021.1C1378.0,1021.8 1385.9,1021.8 1387.9,1021.1C1389.8,1020.5 1390.9,1018.6 1391.8,1015.7C1392.7,1012.8 1394.6,1003.5 1395.3,998.2C1396.0,992.8 1397.1,978.2 1397.6,972.9C1398.2,967.5 1399.0,958.1 1399.6,955.3C1400.1,952.5 1401.3,950.7 1401.9,950.5C1402.5,950.2 1403.9,951.6 1404.4,953.4C1405.0,955.2 1405.8,963.7 1406.4,965.1C1407.0,966.4 1408.7,965.8 1409.3,964.1C1409.9,962.4 1410.8,955.2 1411.2,951.4C1411.7,947.7 1412.7,938.5 1413.2,933.9C1413.7,929.3 1414.7,920.5 1415.1,914.4C1415.6,908.4 1416.6,892.5 1417.1,885.2C1417.6,877.9 1418.5,862.1 1419.0,856.0C1419.5,849.9 1420.4,840.6 1421.0,836.6C1421.6,832.5 1423.2,825.6 1423.9,823.9C1424.6,822.2 1426.1,822.1 1426.8,822.9C1427.6,823.8 1429.1,827.3 1429.7,830.7C1430.4,834.1 1431.2,844.6 1431.7,850.2C1432.2,855.8 1433.2,869.2 1433.6,875.5C1434.1,881.8 1435.1,895.2 1435.6,900.8C1436.1,906.4 1437.0,916.6 1437.5,920.3C1438.0,923.9 1439.0,928.1 1439.5,930.0C1440.0,932.0 1440.9,932.7 1441.4,935.9C1441.9,939.0 1442.8,951.4 1443.4,955.3C1444.0,959.2 1445.6,963.6 1446.3,967.0C1446.9,970.4 1448.1,980.0 1448.6,982.6C1449.2,985.1 1450.0,987.9 1450.6,987.5C1451.1,987.0 1452.5,983.0 1453.1,978.7C1453.7,974.4 1454.6,960.2 1455.1,953.4C1455.5,946.6 1456.5,931.5 1457.0,924.2C1457.5,916.9 1458.5,902.3 1458.9,895.0C1459.4,887.7 1460.4,873.1 1460.9,865.8C1461.4,858.5 1462.4,843.4 1462.8,836.6C1463.3,829.7 1464.2,815.7 1464.8,811.2C1465.4,806.7 1466.9,802.2 1467.7,800.5C1468.6,798.8 1470.8,797.5 1471.6,797.6C1472.5,797.7 1473.9,799.3 1474.5,801.5C1475.1,803.7 1476.0,811.5 1476.5,815.1C1477.0,818.8 1477.8,826.3 1478.4,830.7C1479.0,835.1 1480.6,844.6 1481.3,850.2C1482.1,855.8 1483.5,868.7 1484.3,875.5C1485.0,882.3 1486.5,897.4 1487.2,904.7C1487.8,912.0 1488.9,926.6 1489.5,933.9C1490.1,941.2 1491.4,955.8 1492.0,963.1C1492.7,970.4 1493.9,986.0 1494.6,992.3C1495.2,998.6 1496.6,1010.3 1497.3,1013.7C1498.0,1017.1 1499.5,1018.8 1500.4,1019.6C1501.3,1020.3 1503.7,1020.8 1504.7,1019.6C1505.7,1018.4 1507.7,1014.5 1508.6,1009.8C1509.4,1005.2 1510.8,990.9 1511.5,982.6C1512.2,974.3 1513.7,951.9 1514.4,943.6C1515.2,935.4 1516.6,921.7 1517.4,916.4C1518.1,911.0 1519.4,904.0 1520.3,900.8C1521.1,897.6 1523.2,893.0 1524.2,891.1C1525.1,889.1 1526.8,885.0 1527.7,885.2C1528.5,885.5 1530.3,889.4 1531.0,893.0C1531.6,896.7 1532.4,908.1 1532.9,914.4C1533.4,920.8 1534.4,937.8 1534.9,943.6C1535.4,949.5 1536.3,958.9 1536.8,961.2C1537.4,963.5 1538.8,964.3 1539.4,962.1C1540.0,960.0 1541.2,948.4 1541.7,943.6C1542.2,938.9 1543.0,929.5 1543.6,924.2C1544.3,918.8 1545.8,905.2 1546.6,900.8C1547.3,896.4 1548.8,891.0 1549.5,889.1C1550.2,887.3 1551.7,885.2 1552.4,886.2C1553.1,887.2 1554.4,892.2 1554.9,896.9C1555.5,901.7 1556.4,917.1 1556.9,924.2C1557.4,931.2 1558.3,946.1 1558.8,953.4C1559.3,960.7 1560.2,975.8 1560.8,982.6C1561.3,989.4 1562.5,1003.3 1563.1,1007.9C1563.8,1012.5 1565.2,1017.9 1566.0,1019.6C1566.9,1021.3 1569.0,1021.6 1569.9,1021.5C1570.9,1021.4 1572.9,1020.6 1573.8,1018.6C1574.7,1016.7 1576.4,1010.5 1577.1,1006.0C1577.9,1001.4 1579.0,989.2 1579.7,982.6C1580.3,976.0 1581.6,960.7 1582.2,953.4C1582.8,946.1 1584.0,930.7 1584.5,924.2C1585.1,917.6 1586.0,904.9 1586.5,900.8C1587.0,896.7 1587.9,892.4 1588.4,891.1C1589.0,889.7 1590.2,888.4 1590.8,890.1C1591.4,891.8 1592.7,900.4 1593.3,904.7C1593.9,909.0 1594.8,920.3 1595.2,924.2C1595.7,928.1 1596.6,934.2 1597.2,935.9C1597.8,937.6 1599.4,937.4 1600.1,937.8C1600.8,938.2 1602.4,936.8 1603.0,938.8C1603.6,940.7 1604.5,947.9 1605.0,953.4C1605.5,958.9 1606.4,976.5 1606.9,982.6C1607.4,988.7 1608.3,998.2 1608.9,1002.1C1609.5,1006.0 1610.9,1011.9 1611.8,1013.7C1612.6,1015.6 1614.2,1016.2 1615.7,1016.7C1617.1,1017.1 1621.8,1016.7 1623.5,1017.2C1625.2,1017.8 1622.3,1020.7 1629.3,1021.1C1636.4,1021.6 1672.9,1021.3 1679.9,1021.1C1687.0,1020.9 1683.8,1020.2 1685.8,1019.6C1687.8,1018.9 1694.2,1017.5 1696.0,1015.9C1697.8,1014.4 1699.2,1009.8 1700.0,1006.9C1700.8,1004.0 1701.8,995.0 1702.4,992.9C1703.1,990.7 1704.4,989.4 1705.0,989.9C1705.7,990.4 1707.1,994.3 1707.7,996.9C1708.2,999.5 1709.1,1008.6 1709.7,1010.9C1710.3,1013.3 1711.5,1015.8 1712.5,1015.9C1713.4,1016.1 1715.8,1012.9 1717.1,1011.9C1718.4,1010.9 1721.8,1009.3 1723.1,1007.9C1724.4,1006.5 1726.4,1004.3 1727.1,1000.9C1727.9,997.5 1728.6,987.1 1729.1,980.8C1729.6,974.6 1730.7,958.3 1731.1,950.8C1731.5,943.2 1732.2,928.2 1732.5,920.7C1732.9,913.1 1733.8,898.1 1734.1,890.6C1734.5,883.0 1734.8,868.0 1735.1,860.5C1735.5,853.0 1736.6,837.9 1737.1,830.4C1737.7,822.9 1739.1,807.1 1739.7,800.3C1740.4,793.5 1741.8,781.0 1742.6,776.2C1743.4,771.5 1745.2,764.6 1746.2,762.2C1747.1,759.8 1749.1,757.8 1750.2,757.2C1751.3,756.5 1754.1,756.1 1755.2,756.8C1756.2,757.4 1758.0,759.3 1758.6,762.2C1759.2,765.1 1759.9,774.2 1760.2,780.2C1760.5,786.3 1761.0,802.8 1761.2,810.3C1761.5,817.9 1762.0,832.9 1762.2,840.4C1762.5,847.9 1763.0,863.0 1763.2,870.5C1763.4,878.0 1763.6,893.6 1763.8,900.6C1764.0,907.6 1764.4,922.9 1764.6,926.7C1764.8,930.4 1765.3,934.0 1765.6,930.7C1766.0,927.4 1766.9,909.4 1767.2,900.6C1767.6,891.8 1768.0,870.5 1768.2,860.5C1768.4,850.5 1768.7,829.1 1768.8,820.4C1769.0,811.6 1769.2,796.5 1769.4,790.3C1769.7,784.0 1770.2,773.1 1770.6,770.2C1771.0,767.3 1772.1,766.4 1772.6,767.2C1773.1,768.0 1774.3,772.1 1774.7,776.2C1775.1,780.4 1775.6,793.5 1775.9,800.3C1776.1,807.1 1776.5,822.9 1776.7,830.4C1776.9,837.9 1777.3,853.0 1777.5,860.5C1777.7,868.0 1778.0,884.0 1778.3,890.6C1778.5,897.2 1779.3,906.9 1779.5,913.3C1779.8,919.7 1780.4,935.6 1780.5,941.6C1780.7,947.6 1780.7,958.8 1781.0,961.4C1781.2,964.1 1782.2,964.4 1782.7,962.8C1783.1,961.2 1784.2,950.3 1784.8,948.7C1785.3,947.1 1786.5,947.4 1786.9,950.1C1787.3,952.7 1788.1,964.8 1788.3,969.9C1788.6,975.0 1788.8,986.4 1789.0,991.2C1789.2,995.9 1789.7,1005.7 1790.0,1008.1C1790.3,1010.6 1791.0,1011.3 1791.4,1011.0C1791.8,1010.6 1792.9,1008.7 1793.3,1005.3C1793.7,1001.9 1794.3,987.6 1794.7,984.1C1795.0,980.5 1795.7,978.8 1796.1,977.0C1796.5,975.2 1797.8,974.3 1798.2,969.9C1798.7,965.5 1799.3,947.4 1799.6,941.6C1800.0,935.8 1800.6,925.8 1801.1,923.2C1801.5,920.5 1802.7,919.8 1803.2,920.4C1803.7,920.9 1804.9,923.9 1805.3,927.4C1805.8,931.0 1806.4,943.4 1806.7,948.7C1807.1,954.0 1807.8,965.7 1808.1,969.9C1808.5,974.2 1809.2,980.8 1809.6,982.7C1809.9,984.5 1810.8,985.5 1811.3,984.8C1811.7,984.1 1812.7,980.6 1813.1,977.0C1813.5,973.4 1813.9,961.9 1814.1,955.8C1814.3,949.6 1814.4,934.5 1814.5,927.4C1814.6,920.4 1814.8,906.2 1814.9,899.1C1815.1,892.0 1815.3,877.0 1815.5,870.8C1815.7,864.6 1816.0,852.9 1816.4,849.6C1816.7,846.2 1817.4,844.8 1818.1,843.9C1818.7,843.0 1821.0,844.4 1821.6,842.5C1822.2,840.5 1822.7,832.2 1823.0,828.3C1823.4,824.4 1824.0,814.2 1824.4,811.3C1824.8,808.4 1825.8,805.0 1826.3,805.0C1826.7,805.0 1827.8,807.5 1828.2,811.3C1828.7,815.1 1829.4,829.7 1829.7,835.4C1829.9,841.1 1830.3,850.4 1830.5,856.6C1830.7,862.8 1831.3,877.9 1831.5,885.0C1831.8,892.0 1832.2,906.2 1832.5,913.3C1832.8,920.4 1833.3,934.5 1833.6,941.6C1833.9,948.7 1834.4,963.2 1834.8,969.9C1835.1,976.6 1835.8,991.0 1836.2,995.4C1836.6,999.8 1837.4,1004.2 1837.9,1005.3C1838.4,1006.4 1839.6,1006.5 1840.0,1003.9C1840.4,1001.2 1840.8,990.1 1841.0,984.1C1841.2,978.1 1841.6,962.8 1841.8,955.8C1842.1,948.7 1842.5,932.6 1842.8,927.4C1843.1,922.3 1843.8,916.2 1844.2,914.7C1844.7,913.2 1845.9,913.8 1846.4,915.4C1846.8,917.0 1847.5,923.3 1847.8,927.4C1848.1,931.6 1848.7,943.4 1848.9,948.7C1849.2,954.0 1849.7,965.0 1849.9,969.9C1850.1,974.9 1850.3,985.0 1850.6,988.3C1850.9,991.7 1851.8,995.6 1852.3,996.8C1852.9,998.1 1854.7,998.9 1855.2,998.2C1855.6,997.5 1855.9,992.3 1856.3,991.2C1856.7,990.0 1857.9,988.8 1858.4,989.0C1858.9,989.2 1860.1,990.5 1860.5,992.6C1861.0,994.6 1861.8,1002.7 1862.2,1005.3C1862.7,1008.0 1863.6,1012.7 1864.1,1013.8C1864.6,1014.9 1865.7,1015.8 1866.2,1013.8C1866.7,1011.9 1867.5,1003.7 1867.9,998.2C1868.2,992.7 1868.7,977.0 1869.0,969.9C1869.3,962.8 1869.9,948.7 1870.2,941.6C1870.4,934.5 1870.9,920.4 1871.2,913.3C1871.4,906.2 1871.8,892.0 1872.1,885.0C1872.4,877.9 1873.2,863.7 1873.6,856.6C1874.0,849.6 1875.1,835.4 1875.4,828.3C1875.7,821.2 1875.9,805.7 1876.2,800.1C1876.5,794.4 1877.3,785.7 1877.6,782.9C1878.0,780.1 1878.7,779.0 1879.3,777.8C1879.8,776.5 1881.5,775.8 1882.0,772.6C1882.5,769.4 1882.9,755.7 1883.4,751.9C1883.9,748.2 1885.4,742.9 1886.1,742.7C1886.8,742.4 1888.4,745.8 1889.0,749.9C1889.6,753.9 1890.8,772.2 1891.3,775.1C1891.8,777.9 1892.7,775.5 1893.1,772.6C1893.6,769.7 1894.3,757.1 1894.8,751.9C1895.2,746.8 1896.3,734.3 1896.8,731.3C1897.4,728.3 1898.3,727.7 1898.9,728.2C1899.5,728.7 1900.9,729.9 1901.4,735.4C1901.9,741.0 1902.7,762.8 1903.0,772.6C1903.4,782.4 1903.8,803.6 1904.1,813.9C1904.4,824.2 1905.1,844.9 1905.5,855.2C1905.9,865.5 1906.8,886.2 1907.2,896.5C1907.6,906.8 1908.4,929.0 1908.8,937.8C1909.2,946.6 1909.9,962.9 1910.3,966.7C1910.7,970.4 1911.3,970.7 1911.9,967.7C1912.5,964.8 1914.2,942.8 1914.8,942.9C1915.5,943.1 1916.5,961.7 1917.1,968.8C1917.6,975.9 1918.5,993.7 1919.1,999.7C1919.8,1005.8 1921.4,1017.3 1922.0,1017.3C1922.7,1017.3 1923.6,1004.0 1924.1,999.7C1924.6,995.5 1925.0,985.8 1925.8,983.2C1926.5,980.6 1929.0,981.4 1929.9,979.1C1930.8,976.8 1932.4,969.8 1933.0,964.6C1933.5,959.5 1934.1,946.3 1934.4,937.8C1934.8,929.3 1935.3,906.8 1935.7,896.5C1936.0,886.2 1936.7,865.5 1937.1,855.2C1937.5,844.9 1938.7,824.2 1939.2,813.9C1939.7,803.6 1940.8,781.7 1941.2,772.6C1941.6,763.5 1941.9,746.5 1942.3,741.3C1942.7,736.1 1943.9,732.5 1944.5,731.1C1945.1,729.7 1946.6,731.1 1947.1,730.2C1947.6,729.3 1948.3,726.0 1948.8,724.2C1949.4,722.4 1950.9,716.9 1951.4,715.7C1951.9,714.4 1952.6,713.9 1953.1,714.3C1953.6,714.7 1954.8,715.7 1955.3,719.1C1955.8,722.5 1956.7,736.4 1957.0,741.3C1957.4,746.2 1957.9,756.0 1958.2,758.4C1958.5,760.9 1958.9,761.6 1959.4,761.0C1960.0,760.4 1961.8,754.2 1962.5,753.3C1963.2,752.4 1964.6,750.9 1965.1,753.6C1965.5,756.4 1965.9,770.5 1966.3,775.5C1966.6,780.6 1967.3,794.4 1967.6,794.4C1968.0,794.4 1969.0,781.1 1969.3,775.5C1969.7,770.0 1970.3,755.0 1970.7,749.9C1971.1,744.8 1972.3,735.9 1972.8,734.8C1973.3,733.8 1974.4,737.3 1974.8,741.3C1975.3,745.3 1975.9,759.5 1976.2,767.0C1976.5,774.5 1977.2,792.7 1977.6,801.2C1977.9,809.8 1978.5,826.9 1978.8,835.4C1979.1,844.0 1979.6,861.1 1980.0,869.6C1980.3,878.2 1981.0,895.9 1981.3,903.9C1981.7,911.8 1982.4,927.8 1982.7,932.9C1983.0,938.1 1983.7,945.3 1984.1,944.9C1984.4,944.5 1985.3,935.7 1985.6,929.5C1985.9,923.3 1986.2,903.9 1986.5,895.3C1986.7,886.7 1987.1,868.6 1987.3,861.1C1987.5,853.6 1987.7,840.6 1987.8,835.4C1988.0,830.3 1988.1,822.4 1988.5,820.0C1988.9,817.7 1990.2,817.9 1990.7,816.6C1991.3,815.3 1992.5,812.3 1993.0,809.8C1993.5,807.2 1994.2,798.3 1994.7,796.1C1995.2,793.9 1996.5,791.7 1997.1,792.1C1997.6,792.6 1998.9,795.2 1999.3,799.5C1999.7,803.8 2000.2,819.2 2000.5,826.9C2000.8,834.6 2001.2,853.6 2001.5,861.1C2001.8,868.6 2002.3,882.6 2002.7,886.7C2003.1,890.9 2003.9,893.9 2004.4,893.9C2004.9,893.9 2006.2,890.9 2006.6,886.7C2007.1,882.6 2007.6,866.9 2007.8,861.1C2008.1,855.3 2008.5,844.8 2008.7,840.6C2008.9,836.3 2009.2,830.9 2009.6,826.9C2009.9,822.8 2010.6,811.2 2011.3,808.0C2011.9,804.9 2014.0,800.9 2014.7,801.5C2015.3,802.2 2016.1,807.9 2016.4,813.2C2016.7,818.5 2017.2,835.9 2017.3,844.0C2017.3,852.1 2016.8,872.1 2016.7,878.2C2016.7,884.3 2016.4,893.1 2016.6,893.1C2016.7,893.1 2017.7,882.6 2018.1,878.2C2018.5,873.8 2019.3,861.6 2019.8,857.7C2020.3,853.7 2021.4,846.1 2021.9,846.5C2022.4,847.0 2023.4,855.0 2023.8,861.1C2024.1,867.2 2024.7,886.7 2025.0,895.3C2025.3,903.9 2025.8,921.8 2026.2,929.5C2026.5,937.2 2027.5,952.9 2027.9,956.9C2028.2,960.9 2028.7,961.9 2029.2,961.5C2029.7,961.1 2031.0,954.9 2031.8,953.5C2032.5,952.0 2034.6,951.3 2035.2,950.1C2035.9,948.8 2036.6,950.1 2036.9,943.2C2037.3,936.4 2037.8,907.7 2038.1,895.3C2038.4,882.9 2039.1,856.8 2039.5,844.0C2039.9,831.1 2040.8,802.5 2041.2,792.7C2041.6,782.8 2042.4,768.7 2042.6,765.3"/>
</g>
<path d="M1739.21,645.5 A22.3,382.5 0 0 0 1761.5,1018.5 A22.3,382.5 0 0 0 1783.8,636.0 A22.3,382.5 0 0 0 1761.5,253.5 A22.3,382.5 0 0 0 1739.2,636.0 A22.3,382.5 0 0 0 1739.21,645.5" fill="none" stroke="#f0f" stroke-width="7" stroke-dasharray="28.4 19.156"/>
<g stroke-width="8" stroke-linecap="round">
<line x1="387" y1="962" x2="549" y2="962" stroke="#000"/>
<line x1="387" y1="1050" x2="549" y2="1050" stroke="#f00"/>
<line x1="387" y1="1139" x2="549" y2="1139" stroke="#00f"/>
</g>
<g font-size="60.8">
<text x="565.4" y="985.5">PI-FP</text>
<text x="565.4" y="1074.5">PI-FO</text>
<text x="565.4" y="1162.6">PI-FH</text>
</g>
<line x1="665.8" y1="882.0" x2="665.8" y2="834.6" stroke="#000" stroke-width="7.0" stroke-linecap="round"/><polygon points="665.8,802.1 673.5,834.6 658.0,834.6" fill="#000" stroke="#000" stroke-width="7.0" stroke-linejoin="round"/><line x1="1255.0" y1="1093.0" x2="1302.6" y2="1039.4" stroke="#000" stroke-width="7.0" stroke-linecap="round"/><polygon points="1324.2,1015.1 1308.4,1044.6 1296.8,1034.3" fill="#000" stroke="#000" stroke-width="7.0" stroke-linejoin="round"/><line x1="1388.0" y1="1146.0" x2="1388.0" y2="1069.5" stroke="#000" stroke-width="8.0" stroke-linecap="round"/><polygon points="1388.0,1038.0 1395.2,1069.5 1380.8,1069.5" fill="#000" stroke="#000" stroke-width="8.0" stroke-linejoin="round"/><line x1="1501.0" y1="1089.5" x2="1501.0" y2="1060.5" stroke="#000" stroke-width="6.0" stroke-linecap="round"/><polygon points="1501.0,1027.0 1509.2,1060.5 1492.8,1060.5" fill="#000" stroke="#000" stroke-width="6.0" stroke-linejoin="round"/><line x1="1572.0" y1="1119.0" x2="1572.0" y2="1073.5" stroke="#000" stroke-width="6.0" stroke-linecap="round"/><polygon points="1572.0,1040.0 1580.2,1073.5 1563.8,1073.5" fill="#000" stroke="#000" stroke-width="6.0" stroke-linejoin="round"/><line x1="1762.8" y1="1106.0" x2="1762.8" y2="1059.3" stroke="#000" stroke-width="6.3" stroke-linecap="round"/><polygon points="1762.8,1026.2 1770.9,1059.3 1754.7,1059.3" fill="#000" stroke="#000" stroke-width="6.3" stroke-linejoin="round"/><line x1="1923.8" y1="1119.5" x2="1923.8" y2="1065.1" stroke="#000" stroke-width="6.8" stroke-linecap="round"/><polygon points="1923.8,1032.4 1931.6,1065.1 1916.0,1065.1" fill="#000" stroke="#000" stroke-width="6.8" stroke-linejoin="round"/>
<g font-size="50.2"><text x="798.3" y="896.2" text-anchor="end" font-size="51.0">3085</text><text x="1293.3" y="1164.5" text-anchor="end" font-size="49.2">1774</text><text x="1448.6" y="1211.6" text-anchor="end" font-size="51.3">1719</text><text x="1545.1" y="1133.8" text-anchor="end" font-size="50.6">1510</text><text x="1652.4" y="1159.5" text-anchor="end" font-size="50.6">1376</text><text x="1821.1" y="1153.1" text-anchor="end" font-size="50.7">1150</text><text x="1972.6" y="1193.0" text-anchor="end" font-size="50.6">725</text></g>
<text font-size="77" transform="translate(77.5,1102) rotate(-90)">Transmistance<tspan x="513.6" y="10.8" font-size="73" style="font-family:'Liberation Sans','Noto Serif CJK SC',serif">（</tspan><tspan x="573.5" y="0">%</tspan><tspan x="655" y="10.8" font-size="73" style="font-family:'Liberation Sans','Noto Serif CJK SC',serif">）</tspan></text>
<text font-size="78.6" x="759.5" y="1653">Wavenumber(cm<tspan font-size="90" x="1338" y="1620" stroke="#000" stroke-width="1.6">−</tspan><tspan font-size="79" x="1382" y="1612">1</tspan><tspan x="1425.5" y="1653">)</tspan></text>
</svg>
</body></html>
